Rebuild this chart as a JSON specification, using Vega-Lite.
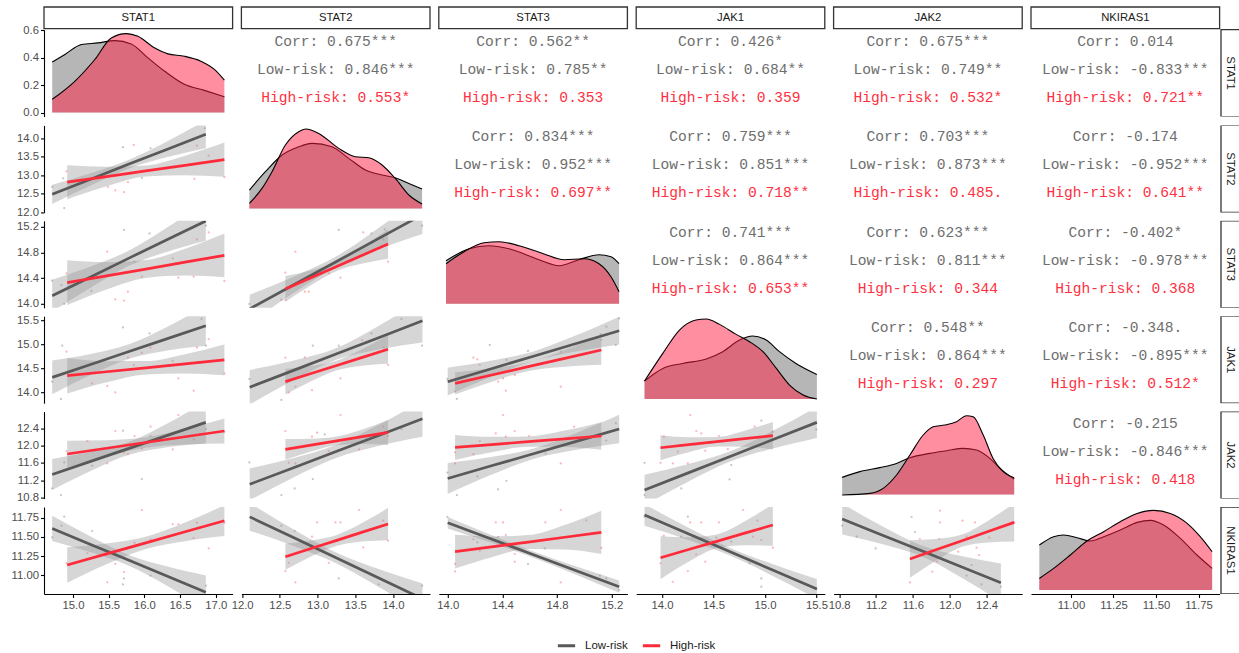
{
"$schema":"https://vega.github.io/schema/vega-lite/v6.json",
"background":"white",
"padding":{"left":11,"top":6,"right":0,"bottom":0},
"bounds":"flush",
"columns":6,
"spacing":8.4,
"datasets":{
"reg":[
{"p":"r2c1","g":"Low-risk","x":14.71,"f":12.48,"lo":12.22,"hi":12.74},{"p":"r2c1","g":"Low-risk","x":15.2475,"f":12.89,"lo":12.72,"hi":13.05},{"p":"r2c1","g":"Low-risk","x":15.785,"f":13.3,"lo":13.18,"hi":13.42},{"p":"r2c1","g":"Low-risk","x":16.3225,"f":13.7,"lo":13.49,"hi":13.92},{"p":"r2c1","g":"Low-risk","x":16.86,"f":14.11,"lo":13.73,"hi":14.49},
{"p":"r2c1","g":"High-risk","x":14.92,"f":12.81,"lo":12.35,"hi":13.27},{"p":"r2c1","g":"High-risk","x":15.47,"f":12.9625,"lo":12.7,"hi":13.23},{"p":"r2c1","g":"High-risk","x":16.02,"f":13.115,"lo":12.965,"hi":13.265},{"p":"r2c1","g":"High-risk","x":16.57,"f":13.2675,"lo":13.0,"hi":13.53},{"p":"r2c1","g":"High-risk","x":17.12,"f":13.42,"lo":12.955,"hi":13.885},
{"p":"r3c1","g":"Low-risk","x":14.71,"f":14.125,"lo":13.875,"hi":14.375},{"p":"r3c1","g":"Low-risk","x":15.2475,"f":14.416,"lo":14.25,"hi":14.58},{"p":"r3c1","g":"Low-risk","x":15.785,"f":14.71,"lo":14.59,"hi":14.83},{"p":"r3c1","g":"Low-risk","x":16.3225,"f":15.0,"lo":14.81,"hi":15.19},{"p":"r3c1","g":"Low-risk","x":16.86,"f":15.29,"lo":14.98,"hi":15.6},
{"p":"r3c1","g":"High-risk","x":14.92,"f":14.328,"lo":13.978,"hi":14.678},{"p":"r3c1","g":"High-risk","x":15.47,"f":14.434,"lo":14.221,"hi":14.647},{"p":"r3c1","g":"High-risk","x":16.02,"f":14.54,"lo":14.4,"hi":14.68},{"p":"r3c1","g":"High-risk","x":16.57,"f":14.647,"lo":14.438,"hi":14.856},{"p":"r3c1","g":"High-risk","x":17.12,"f":14.753,"lo":14.413,"hi":15.093},
{"p":"r4c1","g":"Low-risk","x":14.71,"f":14.305,"lo":13.955,"hi":14.655},{"p":"r4c1","g":"Low-risk","x":15.2475,"f":14.574,"lo":14.356,"hi":14.792},{"p":"r4c1","g":"Low-risk","x":15.785,"f":14.8435,"lo":14.6935,"hi":14.9935},{"p":"r4c1","g":"Low-risk","x":16.3225,"f":15.113,"lo":14.866,"hi":15.36},{"p":"r4c1","g":"Low-risk","x":16.86,"f":15.382,"lo":14.962,"hi":15.802},
{"p":"r4c1","g":"High-risk","x":14.92,"f":14.34,"lo":13.97,"hi":14.71},{"p":"r4c1","g":"High-risk","x":15.47,"f":14.4225,"lo":14.2015,"hi":14.6435},{"p":"r4c1","g":"High-risk","x":16.02,"f":14.505,"lo":14.365,"hi":14.645},{"p":"r4c1","g":"High-risk","x":16.57,"f":14.5875,"lo":14.3875,"hi":14.7875},{"p":"r4c1","g":"High-risk","x":17.12,"f":14.67,"lo":14.35,"hi":14.99},
{"p":"r5c1","g":"Low-risk","x":14.71,"f":11.333,"lo":10.973,"hi":11.693},{"p":"r5c1","g":"Low-risk","x":15.2475,"f":11.635,"lo":11.413,"hi":11.857},{"p":"r5c1","g":"Low-risk","x":15.785,"f":11.9365,"lo":11.7865,"hi":12.0865},{"p":"r5c1","g":"Low-risk","x":16.3225,"f":12.238,"lo":11.961,"hi":12.515},{"p":"r5c1","g":"Low-risk","x":16.86,"f":12.54,"lo":12.05,"hi":13.03},
{"p":"r5c1","g":"High-risk","x":14.92,"f":11.806,"lo":11.496,"hi":12.116},{"p":"r5c1","g":"High-risk","x":15.47,"f":11.94,"lo":11.753,"hi":12.126},{"p":"r5c1","g":"High-risk","x":16.02,"f":12.073,"lo":11.953,"hi":12.193},{"p":"r5c1","g":"High-risk","x":16.57,"f":12.2065,"lo":12.0285,"hi":12.3845},{"p":"r5c1","g":"High-risk","x":17.12,"f":12.34,"lo":12.05,"hi":12.63},
{"p":"r6c1","g":"Low-risk","x":14.71,"f":11.611,"lo":11.446,"hi":11.776},{"p":"r6c1","g":"Low-risk","x":15.2475,"f":11.403,"lo":11.3,"hi":11.506},{"p":"r6c1","g":"Low-risk","x":15.785,"f":11.1955,"lo":11.1255,"hi":11.2655},{"p":"r6c1","g":"Low-risk","x":16.3225,"f":10.988,"lo":10.862,"hi":11.114},{"p":"r6c1","g":"Low-risk","x":16.86,"f":10.78,"lo":10.56,"hi":11.0},
{"p":"r6c1","g":"High-risk","x":14.92,"f":11.135,"lo":10.905,"hi":11.365},{"p":"r6c1","g":"High-risk","x":15.47,"f":11.279,"lo":11.145,"hi":11.413},{"p":"r6c1","g":"High-risk","x":16.02,"f":11.423,"lo":11.343,"hi":11.503},{"p":"r6c1","g":"High-risk","x":16.57,"f":11.567,"lo":11.445,"hi":11.689},{"p":"r6c1","g":"High-risk","x":17.12,"f":11.711,"lo":11.511,"hi":11.911},
{"p":"r3c2","g":"Low-risk","x":12.1,"f":13.92,"lo":13.7,"hi":14.14},{"p":"r3c2","g":"Low-risk","x":12.6725,"f":14.287,"lo":14.157,"hi":14.417},{"p":"r3c2","g":"Low-risk","x":13.245,"f":14.654,"lo":14.574,"hi":14.734},{"p":"r3c2","g":"Low-risk","x":13.8175,"f":15.021,"lo":14.856,"hi":15.186},{"p":"r3c2","g":"Low-risk","x":14.39,"f":15.388,"lo":15.088,"hi":15.688},
{"p":"r3c2","g":"High-risk","x":12.573,"f":14.23,"lo":14.03,"hi":14.43},{"p":"r3c2","g":"High-risk","x":12.913,"f":14.405,"lo":14.288,"hi":14.522},{"p":"r3c2","g":"High-risk","x":13.2535,"f":14.58,"lo":14.51,"hi":14.65},{"p":"r3c2","g":"High-risk","x":13.594,"f":14.755,"lo":14.625,"hi":14.885},{"p":"r3c2","g":"High-risk","x":13.934,"f":14.93,"lo":14.7,"hi":15.16},
{"p":"r4c2","g":"Low-risk","x":12.1,"f":14.1,"lo":13.74,"hi":14.46},{"p":"r4c2","g":"Low-risk","x":12.6725,"f":14.446,"lo":14.238,"hi":14.654},{"p":"r4c2","g":"Low-risk","x":13.245,"f":14.79,"lo":14.67,"hi":14.91},{"p":"r4c2","g":"Low-risk","x":13.8175,"f":15.137,"lo":14.889,"hi":15.385},{"p":"r4c2","g":"Low-risk","x":14.39,"f":15.483,"lo":15.033,"hi":15.933},
{"p":"r4c2","g":"High-risk","x":12.573,"f":14.216,"lo":13.946,"hi":14.486},{"p":"r4c2","g":"High-risk","x":12.913,"f":14.3845,"lo":14.2245,"hi":14.5445},{"p":"r4c2","g":"High-risk","x":13.2535,"f":14.553,"lo":14.453,"hi":14.653},{"p":"r4c2","g":"High-risk","x":13.594,"f":14.7215,"lo":14.5485,"hi":14.8945},{"p":"r4c2","g":"High-risk","x":13.934,"f":14.89,"lo":14.59,"hi":15.19},
{"p":"r5c2","g":"Low-risk","x":12.1,"f":11.104,"lo":10.734,"hi":11.474},{"p":"r5c2","g":"Low-risk","x":12.6725,"f":11.484,"lo":11.258,"hi":11.71},{"p":"r5c2","g":"Low-risk","x":13.245,"f":11.864,"lo":11.714,"hi":12.014},{"p":"r5c2","g":"Low-risk","x":13.8175,"f":12.244,"lo":11.997,"hi":12.491},{"p":"r5c2","g":"Low-risk","x":14.39,"f":12.624,"lo":12.204,"hi":13.044},
{"p":"r5c2","g":"High-risk","x":12.573,"f":11.913,"lo":11.673,"hi":12.153},{"p":"r5c2","g":"High-risk","x":12.913,"f":12.0115,"lo":11.8635,"hi":12.1595},{"p":"r5c2","g":"High-risk","x":13.2535,"f":12.11,"lo":12.01,"hi":12.21},{"p":"r5c2","g":"High-risk","x":13.594,"f":12.2085,"lo":12.0395,"hi":12.3775},{"p":"r5c2","g":"High-risk","x":13.934,"f":12.307,"lo":12.017,"hi":12.597},
{"p":"r6c2","g":"Low-risk","x":12.1,"f":11.761,"lo":11.581,"hi":11.941},{"p":"r6c2","g":"Low-risk","x":12.6725,"f":11.495,"lo":11.386,"hi":11.604},{"p":"r6c2","g":"Low-risk","x":13.245,"f":11.2285,"lo":11.1585,"hi":11.2985},{"p":"r6c2","g":"Low-risk","x":13.8175,"f":10.962,"lo":10.845,"hi":11.079},{"p":"r6c2","g":"Low-risk","x":14.39,"f":10.696,"lo":10.496,"hi":10.896},
{"p":"r6c2","g":"High-risk","x":12.573,"f":11.243,"lo":11.073,"hi":11.413},{"p":"r6c2","g":"High-risk","x":12.913,"f":11.349,"lo":11.245,"hi":11.453},{"p":"r6c2","g":"High-risk","x":13.2535,"f":11.4555,"lo":11.3855,"hi":11.5255},{"p":"r6c2","g":"High-risk","x":13.594,"f":11.562,"lo":11.441,"hi":11.683},{"p":"r6c2","g":"High-risk","x":13.934,"f":11.668,"lo":11.458,"hi":11.878},
{"p":"r4c3","g":"Low-risk","x":14.0,"f":14.215,"lo":13.925,"hi":14.505},{"p":"r4c3","g":"Low-risk","x":14.314,"f":14.481,"lo":14.312,"hi":14.65},{"p":"r4c3","g":"Low-risk","x":14.6275,"f":14.7465,"lo":14.6465,"hi":14.8465},{"p":"r4c3","g":"Low-risk","x":14.941,"f":15.012,"lo":14.843,"hi":15.181},{"p":"r4c3","g":"Low-risk","x":15.255,"f":15.278,"lo":14.988,"hi":15.568},
{"p":"r4c3","g":"High-risk","x":14.054,"f":14.18,"lo":13.95,"hi":14.41},{"p":"r4c3","g":"High-risk","x":14.3215,"f":14.354,"lo":14.215,"hi":14.493},{"p":"r4c3","g":"High-risk","x":14.589,"f":14.528,"lo":14.438,"hi":14.618},{"p":"r4c3","g":"High-risk","x":14.8565,"f":14.702,"lo":14.5285,"hi":14.8755},{"p":"r4c3","g":"High-risk","x":15.124,"f":14.876,"lo":14.566,"hi":15.186},
{"p":"r5c3","g":"Low-risk","x":14.0,"f":11.24,"lo":10.88,"hi":11.6},{"p":"r5c3","g":"Low-risk","x":14.314,"f":11.5265,"lo":11.3185,"hi":11.7345},{"p":"r5c3","g":"Low-risk","x":14.6275,"f":11.813,"lo":11.693,"hi":11.933},{"p":"r5c3","g":"Low-risk","x":14.941,"f":12.0995,"lo":11.9045,"hi":12.2945},{"p":"r5c3","g":"Low-risk","x":15.255,"f":12.386,"lo":12.056,"hi":12.716},
{"p":"r5c3","g":"High-risk","x":14.054,"f":11.96,"lo":11.67,"hi":12.25},{"p":"r5c3","g":"High-risk","x":14.3215,"f":12.026,"lo":11.848,"hi":12.204},{"p":"r5c3","g":"High-risk","x":14.589,"f":12.092,"lo":11.972,"hi":12.212},{"p":"r5c3","g":"High-risk","x":14.8565,"f":12.158,"lo":11.967,"hi":12.349},{"p":"r5c3","g":"High-risk","x":15.124,"f":12.224,"lo":11.904,"hi":12.544},
{"p":"r6c3","g":"Low-risk","x":14.0,"f":11.685,"lo":11.61,"hi":11.76},{"p":"r6c3","g":"Low-risk","x":14.314,"f":11.477,"lo":11.426,"hi":11.528},{"p":"r6c3","g":"Low-risk","x":14.6275,"f":11.269,"lo":11.229,"hi":11.309},{"p":"r6c3","g":"Low-risk","x":14.941,"f":11.061,"lo":11.008,"hi":11.114},{"p":"r6c3","g":"Low-risk","x":15.255,"f":10.853,"lo":10.773,"hi":10.933},
{"p":"r6c3","g":"High-risk","x":14.054,"f":11.308,"lo":11.088,"hi":11.528},{"p":"r6c3","g":"High-risk","x":14.3215,"f":11.371,"lo":11.236,"hi":11.506},{"p":"r6c3","g":"High-risk","x":14.589,"f":11.4335,"lo":11.3435,"hi":11.5235},{"p":"r6c3","g":"High-risk","x":14.8565,"f":11.496,"lo":11.336,"hi":11.656},{"p":"r6c3","g":"High-risk","x":15.124,"f":11.559,"lo":11.279,"hi":11.839},
{"p":"r5c4","g":"Low-risk","x":13.831,"f":10.971,"lo":10.616,"hi":11.326},{"p":"r5c4","g":"Low-risk","x":14.249,"f":11.363,"lo":11.157,"hi":11.569},{"p":"r5c4","g":"Low-risk","x":14.667,"f":11.7555,"lo":11.6355,"hi":11.8755},{"p":"r5c4","g":"Low-risk","x":15.085,"f":12.148,"lo":11.941,"hi":12.355},{"p":"r5c4","g":"Low-risk","x":15.503,"f":12.54,"lo":12.18,"hi":12.9},
{"p":"r5c4","g":"High-risk","x":13.986,"f":11.952,"lo":11.662,"hi":12.242},{"p":"r5c4","g":"High-risk","x":14.2585,"f":12.022,"lo":11.8485,"hi":12.1955},{"p":"r5c4","g":"High-risk","x":14.531,"f":12.0915,"lo":11.9815,"hi":12.2015},{"p":"r5c4","g":"High-risk","x":14.8035,"f":12.161,"lo":11.975,"hi":12.347},{"p":"r5c4","g":"High-risk","x":15.076,"f":12.231,"lo":11.911,"hi":12.551},
{"p":"r6c4","g":"Low-risk","x":13.831,"f":11.785,"lo":11.645,"hi":11.925},{"p":"r6c4","g":"Low-risk","x":14.249,"f":11.5445,"lo":11.462,"hi":11.627},{"p":"r6c4","g":"Low-risk","x":14.667,"f":11.304,"lo":11.254,"hi":11.354},{"p":"r6c4","g":"Low-risk","x":15.085,"f":11.0635,"lo":10.9855,"hi":11.1415},{"p":"r6c4","g":"Low-risk","x":15.503,"f":10.823,"lo":10.693,"hi":10.953},
{"p":"r6c4","g":"High-risk","x":13.986,"f":11.23,"lo":10.95,"hi":11.51},{"p":"r6c4","g":"High-risk","x":14.2585,"f":11.336,"lo":11.176,"hi":11.496},{"p":"r6c4","g":"High-risk","x":14.531,"f":11.4425,"lo":11.3525,"hi":11.5325},{"p":"r6c4","g":"High-risk","x":14.8035,"f":11.549,"lo":11.393,"hi":11.705},{"p":"r6c4","g":"High-risk","x":15.076,"f":11.655,"lo":11.385,"hi":11.925},
{"p":"r6c5","g":"Low-risk","x":10.833,"f":11.733,"lo":11.533,"hi":11.933},{"p":"r6c5","g":"Low-risk","x":11.2635,"f":11.526,"lo":11.409,"hi":11.643},{"p":"r6c5","g":"Low-risk","x":11.694,"f":11.319,"lo":11.249,"hi":11.389},{"p":"r6c5","g":"Low-risk","x":12.1245,"f":11.112,"lo":10.973,"hi":11.251},{"p":"r6c5","g":"Low-risk","x":12.555,"f":10.905,"lo":10.655,"hi":11.155},
{"p":"r6c5","g":"High-risk","x":11.568,"f":11.213,"lo":10.968,"hi":11.458},{"p":"r6c5","g":"High-risk","x":11.851,"f":11.332,"lo":11.191,"hi":11.473},{"p":"r6c5","g":"High-risk","x":12.1335,"f":11.451,"lo":11.371,"hi":11.531},{"p":"r6c5","g":"High-risk","x":12.416,"f":11.57,"lo":11.429,"hi":11.711},{"p":"r6c5","g":"High-risk","x":12.699,"f":11.689,"lo":11.439,"hi":11.939}
],
"pts":[
{"p":"r2c1","g":"Low-risk","x":14.71,"y":12.68},{"p":"r2c1","g":"Low-risk","x":14.864,"y":12.915},{"p":"r2c1","g":"Low-risk","x":14.878,"y":12.108},{"p":"r2c1","g":"Low-risk","x":15.7,"y":13.76},{"p":"r2c1","g":"Low-risk","x":15.965,"y":12.923},{"p":"r2c1","g":"Low-risk","x":16.086,"y":13.73},{"p":"r2c1","g":"Low-risk","x":16.847,"y":14.27},
{"p":"r2c1","g":"High-risk","x":14.91,"y":13.1},{"p":"r2c1","g":"High-risk","x":15.593,"y":12.59},{"p":"r2c1","g":"High-risk","x":15.714,"y":12.54},{"p":"r2c1","g":"High-risk","x":15.77,"y":12.81},{"p":"r2c1","g":"High-risk","x":15.853,"y":13.82},{"p":"r2c1","g":"High-risk","x":15.49,"y":12.68},{"p":"r2c1","g":"High-risk","x":16.736,"y":13.8},{"p":"r2c1","g":"High-risk","x":16.9,"y":13.53},{"p":"r2c1","g":"High-risk","x":17.12,"y":12.95},{"p":"r2c1","g":"High-risk","x":16.7,"y":12.9},
{"p":"r3c1","g":"Low-risk","x":14.71,"y":14.359},{"p":"r3c1","g":"Low-risk","x":14.878,"y":13.996},{"p":"r3c1","g":"Low-risk","x":15.714,"y":15.149},{"p":"r3c1","g":"Low-risk","x":16.072,"y":15.096},{"p":"r3c1","g":"Low-risk","x":16.861,"y":15.216},{"p":"r3c1","g":"Low-risk","x":14.84,"y":14.29},{"p":"r3c1","g":"Low-risk","x":15.258,"y":14.198},
{"p":"r3c1","g":"High-risk","x":14.91,"y":14.473},{"p":"r3c1","g":"High-risk","x":15.48,"y":14.81},{"p":"r3c1","g":"High-risk","x":15.593,"y":14.068},{"p":"r3c1","g":"High-risk","x":15.714,"y":14.048},{"p":"r3c1","g":"High-risk","x":15.77,"y":14.188},{"p":"r3c1","g":"High-risk","x":15.863,"y":14.655},{"p":"r3c1","g":"High-risk","x":15.965,"y":14.421},{"p":"r3c1","g":"High-risk","x":16.397,"y":14.707},{"p":"r3c1","g":"High-risk","x":16.476,"y":14.406},{"p":"r3c1","g":"High-risk","x":16.69,"y":14.421},{"p":"r3c1","g":"High-risk","x":16.736,"y":15.002},{"p":"r3c1","g":"High-risk","x":16.9,"y":15.111},{"p":"r3c1","g":"High-risk","x":17.12,"y":14.354},
{"p":"r4c1","g":"Low-risk","x":14.71,"y":14.216},{"p":"r4c1","g":"Low-risk","x":14.832,"y":13.855},{"p":"r4c1","g":"Low-risk","x":14.85,"y":14.965},{"p":"r4c1","g":"Low-risk","x":15.7,"y":15.347},{"p":"r4c1","g":"Low-risk","x":16.072,"y":15.222},{"p":"r4c1","g":"Low-risk","x":16.8,"y":15.522},{"p":"r4c1","g":"Low-risk","x":16.861,"y":14.965},
{"p":"r4c1","g":"High-risk","x":14.91,"y":14.84},{"p":"r4c1","g":"High-risk","x":15.268,"y":14.18},{"p":"r4c1","g":"High-risk","x":15.481,"y":14.126},{"p":"r4c1","g":"High-risk","x":15.593,"y":13.992},{"p":"r4c1","g":"High-risk","x":15.77,"y":14.715},{"p":"r4c1","g":"High-risk","x":15.853,"y":14.563},{"p":"r4c1","g":"High-risk","x":15.965,"y":14.82},{"p":"r4c1","g":"High-risk","x":16.086,"y":14.924},{"p":"r4c1","g":"High-risk","x":16.397,"y":14.647},{"p":"r4c1","g":"High-risk","x":16.476,"y":14.284},{"p":"r4c1","g":"High-risk","x":16.69,"y":14.028},{"p":"r4c1","g":"High-risk","x":16.736,"y":14.93},{"p":"r4c1","g":"High-risk","x":16.9,"y":15.105},{"p":"r4c1","g":"High-risk","x":17.12,"y":14.388},
{"p":"r5c1","g":"Low-risk","x":14.71,"y":11.008},{"p":"r5c1","g":"Low-risk","x":14.832,"y":10.855},{"p":"r5c1","g":"Low-risk","x":14.878,"y":11.611},{"p":"r5c1","g":"Low-risk","x":15.268,"y":11.535},{"p":"r5c1","g":"Low-risk","x":15.7,"y":12.347},{"p":"r5c1","g":"Low-risk","x":15.965,"y":11.226},{"p":"r5c1","g":"Low-risk","x":16.086,"y":12.224},{"p":"r5c1","g":"Low-risk","x":16.861,"y":12.386},
{"p":"r5c1","g":"High-risk","x":14.91,"y":11.876},{"p":"r5c1","g":"High-risk","x":15.203,"y":12.108},{"p":"r5c1","g":"High-risk","x":15.481,"y":11.588},{"p":"r5c1","g":"High-risk","x":15.593,"y":12.34},{"p":"r5c1","g":"High-risk","x":15.714,"y":11.843},{"p":"r5c1","g":"High-risk","x":15.77,"y":11.806},{"p":"r5c1","g":"High-risk","x":15.863,"y":12.224},{"p":"r5c1","g":"High-risk","x":15.965,"y":11.936},{"p":"r5c1","g":"High-risk","x":16.086,"y":12.44},{"p":"r5c1","g":"High-risk","x":16.397,"y":11.913},{"p":"r5c1","g":"High-risk","x":16.476,"y":12.711},{"p":"r5c1","g":"High-risk","x":16.69,"y":12.145},{"p":"r5c1","g":"High-risk","x":17.12,"y":12.324},
{"p":"r6c1","g":"Low-risk","x":14.71,"y":11.494},{"p":"r6c1","g":"Low-risk","x":14.84,"y":11.646},{"p":"r6c1","g":"Low-risk","x":14.878,"y":11.763},{"p":"r6c1","g":"Low-risk","x":15.268,"y":11.577},{"p":"r6c1","g":"Low-risk","x":15.7,"y":10.883},{"p":"r6c1","g":"Low-risk","x":15.714,"y":10.961},{"p":"r6c1","g":"Low-risk","x":16.086,"y":10.996},{"p":"r6c1","g":"Low-risk","x":16.861,"y":10.866},
{"p":"r6c1","g":"High-risk","x":14.91,"y":11.16},{"p":"r6c1","g":"High-risk","x":15.203,"y":11.29},{"p":"r6c1","g":"High-risk","x":15.481,"y":10.91},{"p":"r6c1","g":"High-risk","x":15.593,"y":11.151},{"p":"r6c1","g":"High-risk","x":15.714,"y":11.043},{"p":"r6c1","g":"High-risk","x":15.77,"y":11.35},{"p":"r6c1","g":"High-risk","x":15.863,"y":11.424},{"p":"r6c1","g":"High-risk","x":15.965,"y":11.85},{"p":"r6c1","g":"High-risk","x":16.086,"y":11.464},{"p":"r6c1","g":"High-risk","x":16.397,"y":11.664},{"p":"r6c1","g":"High-risk","x":16.476,"y":11.664},{"p":"r6c1","g":"High-risk","x":16.69,"y":11.486},{"p":"r6c1","g":"High-risk","x":16.736,"y":11.685},{"p":"r6c1","g":"High-risk","x":16.9,"y":11.35},{"p":"r6c1","g":"High-risk","x":17.12,"y":11.685},
{"p":"r3c2","g":"Low-risk","x":12.096,"y":13.996},{"p":"r3c2","g":"Low-risk","x":12.52,"y":14.063},{"p":"r3c2","g":"Low-risk","x":13.28,"y":15.149},{"p":"r3c2","g":"Low-risk","x":13.714,"y":15.096},{"p":"r3c2","g":"Low-risk","x":13.89,"y":15.158},{"p":"r3c2","g":"Low-risk","x":14.385,"y":15.216},
{"p":"r3c2","g":"High-risk","x":12.573,"y":14.484},{"p":"r3c2","g":"High-risk","x":12.706,"y":14.811},{"p":"r3c2","g":"High-risk","x":12.83,"y":14.188},{"p":"r3c2","g":"High-risk","x":12.883,"y":14.188},{"p":"r3c2","g":"High-risk","x":13.148,"y":14.473},{"p":"r3c2","g":"High-risk","x":13.303,"y":14.406},{"p":"r3c2","g":"High-risk","x":13.606,"y":15.111},{"p":"r3c2","g":"High-risk","x":13.871,"y":15.002},{"p":"r3c2","g":"High-risk","x":13.934,"y":14.655},{"p":"r3c2","g":"High-risk","x":12.573,"y":14.058},
{"p":"r4c2","g":"Low-risk","x":12.096,"y":14.272},{"p":"r4c2","g":"Low-risk","x":12.52,"y":13.834},{"p":"r4c2","g":"Low-risk","x":12.936,"y":14.965},{"p":"r4c2","g":"Low-risk","x":13.28,"y":14.965},{"p":"r4c2","g":"Low-risk","x":13.714,"y":15.222},{"p":"r4c2","g":"Low-risk","x":14.112,"y":15.522},{"p":"r4c2","g":"Low-risk","x":14.385,"y":14.965},
{"p":"r4c2","g":"High-risk","x":12.573,"y":14.715},{"p":"r4c2","g":"High-risk","x":12.617,"y":13.992},{"p":"r4c2","g":"High-risk","x":12.706,"y":14.11},{"p":"r4c2","g":"High-risk","x":12.83,"y":14.72},{"p":"r4c2","g":"High-risk","x":12.926,"y":14.04},{"p":"r4c2","g":"High-risk","x":13.303,"y":14.284},{"p":"r4c2","g":"High-risk","x":13.59,"y":15.084},{"p":"r4c2","g":"High-risk","x":13.878,"y":14.93},{"p":"r4c2","g":"High-risk","x":13.934,"y":14.563},
{"p":"r5c2","g":"Low-risk","x":12.096,"y":11.611},{"p":"r5c2","g":"Low-risk","x":12.52,"y":10.855},{"p":"r5c2","g":"Low-risk","x":12.697,"y":11.008},{"p":"r5c2","g":"Low-risk","x":12.936,"y":11.226},{"p":"r5c2","g":"Low-risk","x":13.095,"y":12.261},{"p":"r5c2","g":"Low-risk","x":14.112,"y":12.386},
{"p":"r5c2","g":"High-risk","x":12.573,"y":12.34},{"p":"r5c2","g":"High-risk","x":12.617,"y":11.604},{"p":"r5c2","g":"High-risk","x":12.706,"y":11.588},{"p":"r5c2","g":"High-risk","x":12.926,"y":12.208},{"p":"r5c2","g":"High-risk","x":12.993,"y":12.3},{"p":"r5c2","g":"High-risk","x":13.148,"y":11.876},{"p":"r5c2","g":"High-risk","x":13.303,"y":12.711},{"p":"r5c2","g":"High-risk","x":13.55,"y":11.913},{"p":"r5c2","g":"High-risk","x":13.871,"y":12.44},{"p":"r5c2","g":"High-risk","x":13.934,"y":12.224},
{"p":"r6c2","g":"Low-risk","x":12.52,"y":11.646},{"p":"r6c2","g":"Low-risk","x":12.697,"y":11.577},{"p":"r6c2","g":"Low-risk","x":13.28,"y":10.961},{"p":"r6c2","g":"Low-risk","x":13.81,"y":10.883},{"p":"r6c2","g":"Low-risk","x":14.385,"y":10.866},
{"p":"r6c2","g":"High-risk","x":12.573,"y":11.057},{"p":"r6c2","g":"High-risk","x":12.617,"y":11.164},{"p":"r6c2","g":"High-risk","x":12.706,"y":10.91},{"p":"r6c2","g":"High-risk","x":12.926,"y":11.503},{"p":"r6c2","g":"High-risk","x":12.993,"y":11.689},{"p":"r6c2","g":"High-risk","x":13.148,"y":11.164},{"p":"r6c2","g":"High-risk","x":13.237,"y":11.689},{"p":"r6c2","g":"High-risk","x":13.303,"y":11.689},{"p":"r6c2","g":"High-risk","x":13.55,"y":11.85},{"p":"r6c2","g":"High-risk","x":13.606,"y":11.364},{"p":"r6c2","g":"High-risk","x":13.871,"y":11.711},{"p":"r6c2","g":"High-risk","x":13.934,"y":11.451},
{"p":"r4c3","g":"Low-risk","x":13.998,"y":14.272},{"p":"r4c3","g":"Low-risk","x":14.067,"y":13.855},{"p":"r4c3","g":"Low-risk","x":14.308,"y":14.98},{"p":"r4c3","g":"Low-risk","x":14.43,"y":14.668},{"p":"r4c3","g":"Low-risk","x":14.588,"y":14.855},{"p":"r4c3","g":"Low-risk","x":15.12,"y":15.209},{"p":"r4c3","g":"Low-risk","x":15.161,"y":15.361},{"p":"r4c3","g":"Low-risk","x":15.23,"y":14.98},{"p":"r4c3","g":"Low-risk","x":15.254,"y":15.534},
{"p":"r4c3","g":"High-risk","x":14.054,"y":14.01},{"p":"r4c3","g":"High-risk","x":14.188,"y":14.715},{"p":"r4c3","g":"High-risk","x":14.217,"y":14.68},{"p":"r4c3","g":"High-risk","x":14.235,"y":14.563},{"p":"r4c3","g":"High-risk","x":14.369,"y":14.215},{"p":"r4c3","g":"High-risk","x":14.405,"y":14.284},{"p":"r4c3","g":"High-risk","x":14.425,"y":14.028},{"p":"r4c3","g":"High-risk","x":14.491,"y":14.355},{"p":"r4c3","g":"High-risk","x":14.827,"y":14.111},{"p":"r4c3","g":"High-risk","x":14.827,"y":14.84},{"p":"r4c3","g":"High-risk","x":15.124,"y":15.084},
{"p":"r5c3","g":"Low-risk","x":13.998,"y":11.377},{"p":"r5c3","g":"Low-risk","x":14.067,"y":10.855},{"p":"r5c3","g":"Low-risk","x":14.19,"y":11.412},{"p":"r5c3","g":"Low-risk","x":14.217,"y":11.287},{"p":"r5c3","g":"Low-risk","x":14.369,"y":10.985},{"p":"r5c3","g":"Low-risk","x":14.43,"y":11.184},{"p":"r5c3","g":"Low-risk","x":14.716,"y":11.813},{"p":"r5c3","g":"Low-risk","x":15.16,"y":12.118},{"p":"r5c3","g":"Low-risk","x":15.23,"y":12.52},
{"p":"r5c3","g":"High-risk","x":14.054,"y":11.843},{"p":"r5c3","g":"High-risk","x":14.054,"y":11.588},{"p":"r5c3","g":"High-risk","x":14.188,"y":11.806},{"p":"r5c3","g":"High-risk","x":14.235,"y":12.108},{"p":"r5c3","g":"High-risk","x":14.352,"y":12.283},{"p":"r5c3","g":"High-risk","x":14.405,"y":12.711},{"p":"r5c3","g":"High-risk","x":14.425,"y":12.208},{"p":"r5c3","g":"High-risk","x":14.491,"y":12.34},{"p":"r5c3","g":"High-risk","x":14.595,"y":12.224},{"p":"r5c3","g":"High-risk","x":14.827,"y":11.588},{"p":"r5c3","g":"High-risk","x":14.925,"y":12.44},{"p":"r5c3","g":"High-risk","x":15.124,"y":12.224},
{"p":"r6c3","g":"Low-risk","x":13.998,"y":11.762},{"p":"r6c3","g":"Low-risk","x":14.217,"y":11.428},{"p":"r6c3","g":"Low-risk","x":14.369,"y":11.502},{"p":"r6c3","g":"Low-risk","x":14.588,"y":11.148},{"p":"r6c3","g":"Low-risk","x":14.71,"y":11.35},{"p":"r6c3","g":"Low-risk","x":15.113,"y":10.996},{"p":"r6c3","g":"Low-risk","x":15.161,"y":10.961},{"p":"r6c3","g":"Low-risk","x":15.254,"y":10.81},
{"p":"r6c3","g":"High-risk","x":14.054,"y":11.151},{"p":"r6c3","g":"High-risk","x":14.054,"y":11.052},{"p":"r6c3","g":"High-risk","x":14.188,"y":11.469},{"p":"r6c3","g":"High-risk","x":14.235,"y":11.32},{"p":"r6c3","g":"High-risk","x":14.352,"y":11.689},{"p":"r6c3","g":"High-risk","x":14.405,"y":11.689},{"p":"r6c3","g":"High-risk","x":14.425,"y":11.525},{"p":"r6c3","g":"High-risk","x":14.491,"y":11.278},{"p":"r6c3","g":"High-risk","x":14.491,"y":11.178},{"p":"r6c3","g":"High-risk","x":14.715,"y":11.689},{"p":"r6c3","g":"High-risk","x":14.827,"y":11.85},{"p":"r6c3","g":"High-risk","x":14.827,"y":10.908},{"p":"r6c3","g":"High-risk","x":15.014,"y":11.714},{"p":"r6c3","g":"High-risk","x":15.124,"y":11.359},
{"p":"r5c4","g":"Low-risk","x":13.831,"y":11.603},{"p":"r5c4","g":"Low-risk","x":13.831,"y":10.855},{"p":"r5c4","g":"Low-risk","x":14.187,"y":11.008},{"p":"r5c4","g":"Low-risk","x":14.672,"y":11.551},{"p":"r5c4","g":"Low-risk","x":14.656,"y":11.217},{"p":"r5c4","g":"Low-risk","x":14.964,"y":12.579},{"p":"r5c4","g":"Low-risk","x":15.498,"y":12.377},
{"p":"r5c4","g":"High-risk","x":13.986,"y":11.603},{"p":"r5c4","g":"High-risk","x":14.018,"y":12.207},{"p":"r5c4","g":"High-risk","x":14.105,"y":11.588},{"p":"r5c4","g":"High-risk","x":14.154,"y":11.86},{"p":"r5c4","g":"High-risk","x":14.251,"y":11.588},{"p":"r5c4","g":"High-risk","x":14.274,"y":12.711},{"p":"r5c4","g":"High-risk","x":14.333,"y":12.34},{"p":"r5c4","g":"High-risk","x":14.381,"y":12.284},{"p":"r5c4","g":"High-risk","x":14.42,"y":11.883},{"p":"r5c4","g":"High-risk","x":14.552,"y":12.224},{"p":"r5c4","g":"High-risk","x":14.639,"y":11.922},{"p":"r5c4","g":"High-risk","x":14.899,"y":12.44},{"p":"r5c4","g":"High-risk","x":15.076,"y":12.324},
{"p":"r6c4","g":"Low-risk","x":13.831,"y":11.763},{"p":"r6c4","g":"Low-risk","x":14.187,"y":11.503},{"p":"r6c4","g":"Low-risk","x":14.251,"y":11.763},{"p":"r6c4","g":"Low-risk","x":14.527,"y":11.49},{"p":"r6c4","g":"Low-risk","x":14.672,"y":11.438},{"p":"r6c4","g":"Low-risk","x":14.85,"y":11.157},{"p":"r6c4","g":"Low-risk","x":14.964,"y":10.961},{"p":"r6c4","g":"Low-risk","x":14.964,"y":10.853},{"p":"r6c4","g":"Low-risk","x":15.498,"y":10.823},
{"p":"r6c4","g":"High-risk","x":13.986,"y":11.157},{"p":"r6c4","g":"High-risk","x":14.018,"y":11.516},{"p":"r6c4","g":"High-risk","x":14.105,"y":10.917},{"p":"r6c4","g":"High-risk","x":14.251,"y":11.056},{"p":"r6c4","g":"High-risk","x":14.274,"y":11.689},{"p":"r6c4","g":"High-risk","x":14.333,"y":11.273},{"p":"r6c4","g":"High-risk","x":14.381,"y":11.689},{"p":"r6c4","g":"High-risk","x":14.42,"y":11.178},{"p":"r6c4","g":"High-risk","x":14.552,"y":11.689},{"p":"r6c4","g":"High-risk","x":14.787,"y":11.85},{"p":"r6c4","g":"High-risk","x":14.884,"y":11.503},{"p":"r6c4","g":"High-risk","x":14.926,"y":11.711},{"p":"r6c4","g":"High-risk","x":14.964,"y":11.46},{"p":"r6c4","g":"High-risk","x":15.076,"y":11.36},
{"p":"r6c5","g":"Low-risk","x":10.833,"y":11.646},{"p":"r6c5","g":"Low-risk","x":10.99,"y":11.503},{"p":"r6c5","g":"Low-risk","x":11.196,"y":11.351},{"p":"r6c5","g":"Low-risk","x":11.586,"y":11.759},{"p":"r6c5","g":"Low-risk","x":11.622,"y":11.564},{"p":"r6c5","g":"Low-risk","x":12.183,"y":10.996},{"p":"r6c5","g":"Low-risk","x":12.237,"y":11.135},{"p":"r6c5","g":"Low-risk","x":12.345,"y":10.883},{"p":"r6c5","g":"Low-risk","x":12.555,"y":10.853},
{"p":"r6c5","g":"High-risk","x":11.568,"y":10.909},{"p":"r6c5","g":"High-risk","x":11.676,"y":11.473},{"p":"r6c5","g":"High-risk","x":11.81,"y":11.048},{"p":"r6c5","g":"High-risk","x":11.864,"y":11.178},{"p":"r6c5","g":"High-risk","x":11.885,"y":11.473},{"p":"r6c5","g":"High-risk","x":11.893,"y":11.841},{"p":"r6c5","g":"High-risk","x":11.893,"y":11.689},{"p":"r6c5","g":"High-risk","x":12.091,"y":11.308},{"p":"r6c5","g":"High-risk","x":12.139,"y":11.711},{"p":"r6c5","g":"High-risk","x":12.183,"y":11.503},{"p":"r6c5","g":"High-risk","x":12.273,"y":11.689},{"p":"r6c5","g":"High-risk","x":12.291,"y":11.36},{"p":"r6c5","g":"High-risk","x":12.319,"y":11.265},{"p":"r6c5","g":"High-risk","x":12.428,"y":11.49},{"p":"r6c5","g":"High-risk","x":12.699,"y":11.689}
],
"dens":[
{"v":"STAT1","g":"Low-risk","x":14.71,"y":0.368},{"v":"STAT1","g":"Low-risk","x":14.888,"y":0.424},{"v":"STAT1","g":"Low-risk","x":15.119,"y":0.496},{"v":"STAT1","g":"Low-risk","x":15.352,"y":0.508},{"v":"STAT1","g":"Low-risk","x":15.585,"y":0.525},{"v":"STAT1","g":"Low-risk","x":15.816,"y":0.5},{"v":"STAT1","g":"Low-risk","x":16.05,"y":0.399},{"v":"STAT1","g":"Low-risk","x":16.28,"y":0.303},{"v":"STAT1","g":"Low-risk","x":16.56,"y":0.206},{"v":"STAT1","g":"Low-risk","x":16.84,"y":0.162},{"v":"STAT1","g":"Low-risk","x":17.12,"y":0.116},
{"v":"STAT1","g":"High-risk","x":14.71,"y":0.097},{"v":"STAT1","g":"High-risk","x":15.03,"y":0.23},{"v":"STAT1","g":"High-risk","x":15.306,"y":0.387},{"v":"STAT1","g":"High-risk","x":15.537,"y":0.544},{"v":"STAT1","g":"High-risk","x":15.747,"y":0.576},{"v":"STAT1","g":"High-risk","x":15.91,"y":0.556},{"v":"STAT1","g":"High-risk","x":16.14,"y":0.472},{"v":"STAT1","g":"High-risk","x":16.33,"y":0.428},{"v":"STAT1","g":"High-risk","x":16.56,"y":0.411},{"v":"STAT1","g":"High-risk","x":16.79,"y":0.375},{"v":"STAT1","g":"High-risk","x":16.98,"y":0.315},{"v":"STAT1","g":"High-risk","x":17.12,"y":0.237},
{"v":"STAT2","g":"Low-risk","x":12.096,"y":0.257},{"v":"STAT2","g":"Low-risk","x":12.308,"y":0.468},{"v":"STAT2","g":"Low-risk","x":12.53,"y":0.66},{"v":"STAT2","g":"Low-risk","x":12.75,"y":0.755},{"v":"STAT2","g":"Low-risk","x":12.926,"y":0.793},{"v":"STAT2","g":"Low-risk","x":13.19,"y":0.755},{"v":"STAT2","g":"Low-risk","x":13.413,"y":0.621},{"v":"STAT2","g":"Low-risk","x":13.635,"y":0.487},{"v":"STAT2","g":"Low-risk","x":13.855,"y":0.43},{"v":"STAT2","g":"Low-risk","x":14.054,"y":0.39},{"v":"STAT2","g":"Low-risk","x":14.21,"y":0.333},{"v":"STAT2","g":"Low-risk","x":14.385,"y":0.269},
{"v":"STAT2","g":"High-risk","x":12.096,"y":0.103},{"v":"STAT2","g":"High-risk","x":12.263,"y":0.276},{"v":"STAT2","g":"High-risk","x":12.396,"y":0.468},{"v":"STAT2","g":"High-risk","x":12.573,"y":0.775},{"v":"STAT2","g":"High-risk","x":12.75,"y":0.928},{"v":"STAT2","g":"High-risk","x":12.84,"y":0.958},{"v":"STAT2","g":"High-risk","x":13.015,"y":0.908},{"v":"STAT2","g":"High-risk","x":13.28,"y":0.736},{"v":"STAT2","g":"High-risk","x":13.5,"y":0.64},{"v":"STAT2","g":"High-risk","x":13.68,"y":0.629},{"v":"STAT2","g":"High-risk","x":13.855,"y":0.545},{"v":"STAT2","g":"High-risk","x":14.03,"y":0.39},{"v":"STAT2","g":"High-risk","x":14.21,"y":0.2},{"v":"STAT2","g":"High-risk","x":14.385,"y":0.097},
{"v":"STAT3","g":"Low-risk","x":13.988,"y":0.541},{"v":"STAT3","g":"Low-risk","x":14.157,"y":0.679},{"v":"STAT3","g":"Low-risk","x":14.303,"y":0.714},{"v":"STAT3","g":"Low-risk","x":14.449,"y":0.679},{"v":"STAT3","g":"Low-risk","x":14.669,"y":0.553},{"v":"STAT3","g":"Low-risk","x":14.815,"y":0.484},{"v":"STAT3","g":"Low-risk","x":14.96,"y":0.553},{"v":"STAT3","g":"Low-risk","x":15.107,"y":0.61},{"v":"STAT3","g":"Low-risk","x":15.195,"y":0.587},{"v":"STAT3","g":"Low-risk","x":15.254,"y":0.507},
{"v":"STAT3","g":"High-risk","x":13.988,"y":0.507},{"v":"STAT3","g":"High-risk","x":14.12,"y":0.645},{"v":"STAT3","g":"High-risk","x":14.266,"y":0.748},{"v":"STAT3","g":"High-risk","x":14.376,"y":0.76},{"v":"STAT3","g":"High-risk","x":14.522,"y":0.714},{"v":"STAT3","g":"High-risk","x":14.7,"y":0.622},{"v":"STAT3","g":"High-risk","x":14.852,"y":0.553},{"v":"STAT3","g":"High-risk","x":14.998,"y":0.564},{"v":"STAT3","g":"High-risk","x":15.107,"y":0.507},{"v":"STAT3","g":"High-risk","x":15.195,"y":0.357},{"v":"STAT3","g":"High-risk","x":15.254,"y":0.185},
{"v":"JAK1","g":"Low-risk","x":13.831,"y":0.255},{"v":"JAK1","g":"Low-risk","x":14.008,"y":0.4},{"v":"JAK1","g":"Low-risk","x":14.2,"y":0.457},{"v":"JAK1","g":"Low-risk","x":14.43,"y":0.508},{"v":"JAK1","g":"Low-risk","x":14.59,"y":0.592},{"v":"JAK1","g":"Low-risk","x":14.753,"y":0.726},{"v":"JAK1","g":"Low-risk","x":14.88,"y":0.772},{"v":"JAK1","g":"Low-risk","x":15.012,"y":0.726},{"v":"JAK1","g":"Low-risk","x":15.14,"y":0.592},{"v":"JAK1","g":"Low-risk","x":15.3,"y":0.457},{"v":"JAK1","g":"Low-risk","x":15.503,"y":0.331},
{"v":"JAK1","g":"High-risk","x":13.831,"y":0.255},{"v":"JAK1","g":"High-risk","x":14.008,"y":0.572},{"v":"JAK1","g":"High-risk","x":14.17,"y":0.841},{"v":"JAK1","g":"High-risk","x":14.33,"y":0.956},{"v":"JAK1","g":"High-risk","x":14.43,"y":0.968},{"v":"JAK1","g":"High-risk","x":14.559,"y":0.906},{"v":"JAK1","g":"High-risk","x":14.72,"y":0.791},{"v":"JAK1","g":"High-risk","x":14.85,"y":0.707},{"v":"JAK1","g":"High-risk","x":14.98,"y":0.592},{"v":"JAK1","g":"High-risk","x":15.11,"y":0.4},{"v":"JAK1","g":"High-risk","x":15.238,"y":0.209},{"v":"JAK1","g":"High-risk","x":15.37,"y":0.094},{"v":"JAK1","g":"High-risk","x":15.503,"y":0.048},
{"v":"JAK2","g":"Low-risk","x":10.833,"y":0.244},{"v":"JAK2","g":"Low-risk","x":11.025,"y":0.31},{"v":"JAK2","g":"Low-risk","x":11.24,"y":0.356},{"v":"JAK2","g":"Low-risk","x":11.423,"y":0.404},{"v":"JAK2","g":"Low-risk","x":11.568,"y":0.47},{"v":"JAK2","g":"Low-risk","x":11.785,"y":0.52},{"v":"JAK2","g":"Low-risk","x":11.966,"y":0.55},{"v":"JAK2","g":"Low-risk","x":12.146,"y":0.577},{"v":"JAK2","g":"Low-risk","x":12.29,"y":0.558},{"v":"JAK2","g":"Low-risk","x":12.435,"y":0.462},{"v":"JAK2","g":"Low-risk","x":12.544,"y":0.347},{"v":"JAK2","g":"Low-risk","x":12.699,"y":0.225},
{"v":"JAK2","g":"High-risk","x":10.833,"y":0.041},{"v":"JAK2","g":"High-risk","x":11.134,"y":0.06},{"v":"JAK2","g":"High-risk","x":11.278,"y":0.118},{"v":"JAK2","g":"High-risk","x":11.423,"y":0.271},{"v":"JAK2","g":"High-risk","x":11.568,"y":0.501},{"v":"JAK2","g":"High-risk","x":11.712,"y":0.731},{"v":"JAK2","g":"High-risk","x":11.82,"y":0.826},{"v":"JAK2","g":"High-risk","x":11.947,"y":0.846},{"v":"JAK2","g":"High-risk","x":12.074,"y":0.884},{"v":"JAK2","g":"High-risk","x":12.182,"y":0.953},{"v":"JAK2","g":"High-risk","x":12.254,"y":0.941},{"v":"JAK2","g":"High-risk","x":12.363,"y":0.731},{"v":"JAK2","g":"High-risk","x":12.47,"y":0.462},{"v":"JAK2","g":"High-risk","x":12.58,"y":0.31},{"v":"JAK2","g":"High-risk","x":12.699,"y":0.239},
{"v":"NKIRAS1","g":"Low-risk","x":10.814,"y":0.563},{"v":"NKIRAS1","g":"Low-risk","x":10.898,"y":0.659},{"v":"NKIRAS1","g":"Low-risk","x":10.957,"y":0.678},{"v":"NKIRAS1","g":"Low-risk","x":11.036,"y":0.647},{"v":"NKIRAS1","g":"Low-risk","x":11.114,"y":0.609},{"v":"NKIRAS1","g":"Low-risk","x":11.192,"y":0.659},{"v":"NKIRAS1","g":"Low-risk","x":11.29,"y":0.736},{"v":"NKIRAS1","g":"Low-risk","x":11.389,"y":0.823},{"v":"NKIRAS1","g":"Low-risk","x":11.467,"y":0.846},{"v":"NKIRAS1","g":"Low-risk","x":11.545,"y":0.793},{"v":"NKIRAS1","g":"Low-risk","x":11.643,"y":0.639},{"v":"NKIRAS1","g":"Low-risk","x":11.741,"y":0.448},{"v":"NKIRAS1","g":"Low-risk","x":11.83,"y":0.294},
{"v":"NKIRAS1","g":"High-risk","x":10.814,"y":0.179},{"v":"NKIRAS1","g":"High-risk","x":10.898,"y":0.294},{"v":"NKIRAS1","g":"High-risk","x":10.996,"y":0.448},{"v":"NKIRAS1","g":"High-risk","x":11.094,"y":0.609},{"v":"NKIRAS1","g":"High-risk","x":11.192,"y":0.716},{"v":"NKIRAS1","g":"High-risk","x":11.29,"y":0.831},{"v":"NKIRAS1","g":"High-risk","x":11.389,"y":0.926},{"v":"NKIRAS1","g":"High-risk","x":11.486,"y":0.961},{"v":"NKIRAS1","g":"High-risk","x":11.584,"y":0.926},{"v":"NKIRAS1","g":"High-risk","x":11.683,"y":0.812},{"v":"NKIRAS1","g":"High-risk","x":11.76,"y":0.659},{"v":"NKIRAS1","g":"High-risk","x":11.83,"y":0.486}
],
"txt":[
{"p":"r1c2","k":"a","t":"Corr: 0.675***"},{"p":"r1c2","k":"b","t":"\u00a0Low-risk: 0.846***"},{"p":"r1c2","k":"c","t":"High-risk: 0.553*\u00a0\u00a0"},
{"p":"r1c3","k":"a","t":"Corr: 0.562**"},{"p":"r1c3","k":"b","t":"\u00a0Low-risk: 0.785**"},{"p":"r1c3","k":"c","t":"High-risk: 0.353\u00a0\u00a0"},
{"p":"r1c4","k":"a","t":"Corr: 0.426*"},{"p":"r1c4","k":"b","t":"\u00a0Low-risk: 0.684**"},{"p":"r1c4","k":"c","t":"High-risk: 0.359\u00a0\u00a0"},
{"p":"r1c5","k":"a","t":"Corr: 0.675***"},{"p":"r1c5","k":"b","t":"\u00a0Low-risk: 0.749**"},{"p":"r1c5","k":"c","t":"High-risk: 0.532*\u00a0"},
{"p":"r1c6","k":"a","t":"Corr: 0.014"},{"p":"r1c6","k":"b","t":"\u00a0Low-risk: -0.833***"},{"p":"r1c6","k":"c","t":"High-risk: 0.721**\u00a0\u00a0"},
{"p":"r2c3","k":"a","t":"Corr: 0.834***"},{"p":"r2c3","k":"b","t":"\u00a0Low-risk: 0.952***"},{"p":"r2c3","k":"c","t":"High-risk: 0.697**\u00a0"},
{"p":"r2c4","k":"a","t":"Corr: 0.759***"},{"p":"r2c4","k":"b","t":"\u00a0Low-risk: 0.851***"},{"p":"r2c4","k":"c","t":"High-risk: 0.718**\u00a0"},
{"p":"r2c5","k":"a","t":"Corr: 0.703***"},{"p":"r2c5","k":"b","t":"\u00a0Low-risk: 0.873***"},{"p":"r2c5","k":"c","t":"High-risk: 0.485.\u00a0\u00a0"},
{"p":"r2c6","k":"a","t":"Corr: -0.174"},{"p":"r2c6","k":"b","t":"\u00a0Low-risk: -0.952***"},{"p":"r2c6","k":"c","t":"High-risk: 0.641**\u00a0\u00a0"},
{"p":"r3c4","k":"a","t":"Corr: 0.741***"},{"p":"r3c4","k":"b","t":"\u00a0Low-risk: 0.864***"},{"p":"r3c4","k":"c","t":"High-risk: 0.653**\u00a0"},
{"p":"r3c5","k":"a","t":"Corr: 0.623***"},{"p":"r3c5","k":"b","t":"\u00a0Low-risk: 0.811***"},{"p":"r3c5","k":"c","t":"High-risk: 0.344\u00a0\u00a0\u00a0"},
{"p":"r3c6","k":"a","t":"Corr: -0.402*"},{"p":"r3c6","k":"b","t":"\u00a0Low-risk: -0.978***"},{"p":"r3c6","k":"c","t":"High-risk: 0.368\u00a0\u00a0\u00a0\u00a0"},
{"p":"r4c5","k":"a","t":"Corr: 0.548**"},{"p":"r4c5","k":"b","t":"\u00a0Low-risk: 0.864***"},{"p":"r4c5","k":"c","t":"High-risk: 0.297\u00a0\u00a0\u00a0"},
{"p":"r4c6","k":"a","t":"Corr: -0.348."},{"p":"r4c6","k":"b","t":"\u00a0Low-risk: -0.895***"},{"p":"r4c6","k":"c","t":"High-risk: 0.512*\u00a0\u00a0\u00a0"},
{"p":"r5c6","k":"a","t":"Corr: -0.215"},{"p":"r5c6","k":"b","t":"\u00a0Low-risk: -0.846***"},{"p":"r5c6","k":"c","t":"High-risk: 0.418\u00a0\u00a0\u00a0\u00a0"}
]
},
"concat":[
{"width":188.6,"height":109.6,"resolve":{"scale":{"x":"independent","y":"independent"}},"layer":[
 {"data":{"values":[{"lab":"STAT1"}]},"layer":[
  {"mark":{"type":"rect","fill":"#FFFFFF","stroke":"#333333","strokeWidth":1.3},"encoding":{"x":{"datum":0,"type":"quantitative","scale":{"domain":[0,1],"range":[0,188.6]},"axis":null},"x2":{"datum":1},"y":{"datum":0,"type":"quantitative","scale":{"domain":[0,1],"range":[0,21.6]},"axis":null},"y2":{"datum":1}}},
  {"mark":{"type":"text","fontSize":11.3,"color":"#1A1A1A","baseline":"middle"},"encoding":{"x":{"datum":0.5,"type":"quantitative","scale":{"domain":[0,1],"range":[0,188.6]},"axis":null},"y":{"datum":0.5,"type":"quantitative","scale":{"domain":[0,1],"range":[0,21.6]},"axis":null},"text":{"field":"lab"}}}]},
 {"data":{"name":"dens"},"transform":[{"filter":"datum.v==='STAT1'"}],"layer":[
  {"transform":[{"filter":"datum.g==='Low-risk'"}],"mark":{"type":"area","interpolate":"monotone","fill":"#6D6D6D","fillOpacity":0.5,"line":{"color":"#000000","strokeWidth":1.1}},"encoding":{"x":{"field":"x","type":"quantitative","scale":{"domain":[14.595,17.235],"nice":false,"zero":false},"axis":null},"y":{"field":"y","type":"quantitative","scale":{"domain":[-0.029,0.605],"range":[109.6,22.6],"nice":false,"zero":false},"axis":{"values":[0,0.2,0.4,0.6],"format":".1f","title":null,"tickCount":20}},"y2":{"datum":0}}},
  {"transform":[{"filter":"datum.g==='High-risk'"}],"mark":{"type":"area","interpolate":"monotone","fill":"#FF1F41","fillOpacity":0.5,"line":{"color":"#000000","strokeWidth":1.1}},"encoding":{"x":{"field":"x","type":"quantitative","scale":{"domain":[14.595,17.235],"nice":false,"zero":false},"axis":null},"y":{"field":"y","type":"quantitative","scale":{"domain":[-0.029,0.605],"range":[109.6,22.6],"nice":false,"zero":false}},"y2":{"datum":0}}}]}
]},
{"width":188.6,"height":109.6,"resolve":{"scale":{"x":"independent","y":"independent"}},"layer":[
 {"data":{"values":[{"lab":"STAT2"}]},"layer":[
  {"mark":{"type":"rect","fill":"#FFFFFF","stroke":"#333333","strokeWidth":1.3},"encoding":{"x":{"datum":0,"type":"quantitative","scale":{"domain":[0,1],"range":[0,188.6]},"axis":null},"x2":{"datum":1},"y":{"datum":0,"type":"quantitative","scale":{"domain":[0,1],"range":[0,21.6]},"axis":null},"y2":{"datum":1}}},
  {"mark":{"type":"text","fontSize":11.3,"color":"#1A1A1A","baseline":"middle"},"encoding":{"x":{"datum":0.5,"type":"quantitative","scale":{"domain":[0,1],"range":[0,188.6]},"axis":null},"y":{"datum":0.5,"type":"quantitative","scale":{"domain":[0,1],"range":[0,21.6]},"axis":null},"text":{"field":"lab"}}}]},
 {"data":{"name":"txt"},"transform":[{"filter":"datum.p==='r1c2'"}],"mark":{"type":"text","font":"Liberation Mono","fontSize":14.6,"baseline":"middle"},"encoding":{"x":{"datum":0.5,"type":"quantitative","scale":{"domain":[0,1],"range":[0,188.6]},"axis":null},"y":{"field":"k","type":"nominal","scale":{"type":"point","domain":["a","b","c"],"range":[34.6,90.6],"padding":0},"axis":null},"text":{"field":"t"},"color":{"condition":{"test":"datum.k==='c'","value":"#FF3040"},"value":"#6E6E6E"}}}
]},
{"width":188.6,"height":109.6,"resolve":{"scale":{"x":"independent","y":"independent"}},"layer":[
 {"data":{"values":[{"lab":"STAT3"}]},"layer":[
  {"mark":{"type":"rect","fill":"#FFFFFF","stroke":"#333333","strokeWidth":1.3},"encoding":{"x":{"datum":0,"type":"quantitative","scale":{"domain":[0,1],"range":[0,188.6]},"axis":null},"x2":{"datum":1},"y":{"datum":0,"type":"quantitative","scale":{"domain":[0,1],"range":[0,21.6]},"axis":null},"y2":{"datum":1}}},
  {"mark":{"type":"text","fontSize":11.3,"color":"#1A1A1A","baseline":"middle"},"encoding":{"x":{"datum":0.5,"type":"quantitative","scale":{"domain":[0,1],"range":[0,188.6]},"axis":null},"y":{"datum":0.5,"type":"quantitative","scale":{"domain":[0,1],"range":[0,21.6]},"axis":null},"text":{"field":"lab"}}}]},
 {"data":{"name":"txt"},"transform":[{"filter":"datum.p==='r1c3'"}],"mark":{"type":"text","font":"Liberation Mono","fontSize":14.6,"baseline":"middle"},"encoding":{"x":{"datum":0.5,"type":"quantitative","scale":{"domain":[0,1],"range":[0,188.6]},"axis":null},"y":{"field":"k","type":"nominal","scale":{"type":"point","domain":["a","b","c"],"range":[34.6,90.6],"padding":0},"axis":null},"text":{"field":"t"},"color":{"condition":{"test":"datum.k==='c'","value":"#FF3040"},"value":"#6E6E6E"}}}
]},
{"width":188.6,"height":109.6,"resolve":{"scale":{"x":"independent","y":"independent"}},"layer":[
 {"data":{"values":[{"lab":"JAK1"}]},"layer":[
  {"mark":{"type":"rect","fill":"#FFFFFF","stroke":"#333333","strokeWidth":1.3},"encoding":{"x":{"datum":0,"type":"quantitative","scale":{"domain":[0,1],"range":[0,188.6]},"axis":null},"x2":{"datum":1},"y":{"datum":0,"type":"quantitative","scale":{"domain":[0,1],"range":[0,21.6]},"axis":null},"y2":{"datum":1}}},
  {"mark":{"type":"text","fontSize":11.3,"color":"#1A1A1A","baseline":"middle"},"encoding":{"x":{"datum":0.5,"type":"quantitative","scale":{"domain":[0,1],"range":[0,188.6]},"axis":null},"y":{"datum":0.5,"type":"quantitative","scale":{"domain":[0,1],"range":[0,21.6]},"axis":null},"text":{"field":"lab"}}}]},
 {"data":{"name":"txt"},"transform":[{"filter":"datum.p==='r1c4'"}],"mark":{"type":"text","font":"Liberation Mono","fontSize":14.6,"baseline":"middle"},"encoding":{"x":{"datum":0.5,"type":"quantitative","scale":{"domain":[0,1],"range":[0,188.6]},"axis":null},"y":{"field":"k","type":"nominal","scale":{"type":"point","domain":["a","b","c"],"range":[34.6,90.6],"padding":0},"axis":null},"text":{"field":"t"},"color":{"condition":{"test":"datum.k==='c'","value":"#FF3040"},"value":"#6E6E6E"}}}
]},
{"width":188.6,"height":109.6,"resolve":{"scale":{"x":"independent","y":"independent"}},"layer":[
 {"data":{"values":[{"lab":"JAK2"}]},"layer":[
  {"mark":{"type":"rect","fill":"#FFFFFF","stroke":"#333333","strokeWidth":1.3},"encoding":{"x":{"datum":0,"type":"quantitative","scale":{"domain":[0,1],"range":[0,188.6]},"axis":null},"x2":{"datum":1},"y":{"datum":0,"type":"quantitative","scale":{"domain":[0,1],"range":[0,21.6]},"axis":null},"y2":{"datum":1}}},
  {"mark":{"type":"text","fontSize":11.3,"color":"#1A1A1A","baseline":"middle"},"encoding":{"x":{"datum":0.5,"type":"quantitative","scale":{"domain":[0,1],"range":[0,188.6]},"axis":null},"y":{"datum":0.5,"type":"quantitative","scale":{"domain":[0,1],"range":[0,21.6]},"axis":null},"text":{"field":"lab"}}}]},
 {"data":{"name":"txt"},"transform":[{"filter":"datum.p==='r1c5'"}],"mark":{"type":"text","font":"Liberation Mono","fontSize":14.6,"baseline":"middle"},"encoding":{"x":{"datum":0.5,"type":"quantitative","scale":{"domain":[0,1],"range":[0,188.6]},"axis":null},"y":{"field":"k","type":"nominal","scale":{"type":"point","domain":["a","b","c"],"range":[34.6,90.6],"padding":0},"axis":null},"text":{"field":"t"},"color":{"condition":{"test":"datum.k==='c'","value":"#FF3040"},"value":"#6E6E6E"}}}
]},
{"width":208.3,"height":109.6,"resolve":{"scale":{"x":"independent","y":"independent"}},"layer":[
 {"data":{"values":[{"lab":"NKIRAS1"}]},"layer":[
  {"mark":{"type":"rect","fill":"#FFFFFF","stroke":"#333333","strokeWidth":1.3},"encoding":{"x":{"datum":0,"type":"quantitative","scale":{"domain":[0,1],"range":[0,188.6]},"axis":null},"x2":{"datum":1},"y":{"datum":0,"type":"quantitative","scale":{"domain":[0,1],"range":[0,21.6]},"axis":null},"y2":{"datum":1}}},
  {"mark":{"type":"text","fontSize":11.3,"color":"#1A1A1A","baseline":"middle"},"encoding":{"x":{"datum":0.5,"type":"quantitative","scale":{"domain":[0,1],"range":[0,188.6]},"axis":null},"y":{"datum":0.5,"type":"quantitative","scale":{"domain":[0,1],"range":[0,21.6]},"axis":null},"text":{"field":"lab"}}}]},
 {"data":{"values":[{"lab":"STAT1"}]},"layer":[
  {"mark":{"type":"rect","fill":"#FFFFFF","stroke":"#333333","strokeWidth":1.3,"clip":true},"encoding":{"x":{"datum":0,"type":"quantitative","scale":{"domain":[0,1],"range":[190,208.6]},"axis":null},"x2":{"datum":1.3},"y":{"datum":0,"type":"quantitative","scale":{"domain":[0,1],"range":[22.6,109.6]},"axis":null},"y2":{"datum":1}}},
  {"mark":{"type":"text","fontSize":11.3,"color":"#1A1A1A","baseline":"middle","angle":90},"encoding":{"x":{"datum":0.5,"type":"quantitative","scale":{"domain":[0,1],"range":[190,208.6]},"axis":null},"y":{"datum":0.5,"type":"quantitative","scale":{"domain":[0,1],"range":[22.6,109.6]},"axis":null},"text":{"field":"lab"}}}]},
 {"data":{"name":"txt"},"transform":[{"filter":"datum.p==='r1c6'"}],"mark":{"type":"text","font":"Liberation Mono","fontSize":14.6,"baseline":"middle"},"encoding":{"x":{"datum":0.5,"type":"quantitative","scale":{"domain":[0,1],"range":[0,188.6]},"axis":null},"y":{"field":"k","type":"nominal","scale":{"type":"point","domain":["a","b","c"],"range":[34.6,90.6],"padding":0},"axis":null},"text":{"field":"t"},"color":{"condition":{"test":"datum.k==='c'","value":"#FF3040"},"value":"#6E6E6E"}}}
]},

{"width":188.6,"height":87,"data":{"name":"reg"},"transform":[{"filter":"datum.p==='r2c1'"}],"layer":[
 {"data":{"name":"pts"},"transform":[{"filter":"datum.p==='r2c1'"}],"mark":{"type":"circle","size":5,"fillOpacity":0.35,"clip":true},"encoding":{"x":{"field":"x","type":"quantitative","scale":{"domain":[14.595,17.235],"nice":false,"zero":false},"axis":null},"y":{"field":"y","type":"quantitative","scale":{"domain":[11.99,14.35],"nice":false,"zero":false}},"color":{"field":"g","type":"nominal","title":null,"scale":{"domain":["Low-risk","High-risk"],"range":["#595959","#FF2A3A"]}}}},
 {"mark":{"type":"area","interpolate":"monotone","color":"#999999","opacity":0.4,"clip":true},"encoding":{"x":{"field":"x","type":"quantitative","scale":{"domain":[14.595,17.235],"nice":false,"zero":false},"axis":null},"y":{"field":"lo","type":"quantitative","scale":{"domain":[11.99,14.35],"nice":false,"zero":false},"axis":{"values":[12,12.5,13,13.5,14],"format":".1f","title":null,"tickCount":20}},"y2":{"field":"hi"},"detail":{"field":"g"}}},
 {"mark":{"type":"line","strokeWidth":2.7,"clip":true},"encoding":{"x":{"field":"x","type":"quantitative","scale":{"domain":[14.595,17.235],"nice":false,"zero":false},"axis":null},"y":{"field":"f","type":"quantitative","scale":{"domain":[11.99,14.35],"nice":false,"zero":false}},"color":{"field":"g","type":"nominal","title":null,"scale":{"domain":["Low-risk","High-risk"],"range":["#595959","#FF2A3A"]},"legend":{"orient":"none","legendX":512,"legendY":628,"direction":"horizontal","symbolType":"stroke","symbolStrokeWidth":3,"symbolSize":300,"symbolOpacity":1,"labelFontSize":11.5,"labelColor":"#1A1A1A","columnPadding":8,"labelOffset":8}}}}
]},
{"width":188.6,"height":87,"data":{"name":"dens"},"transform":[{"filter":"datum.v==='STAT2'"}],"layer":[
 {"transform":[{"filter":"datum.g==='Low-risk'"}],"mark":{"type":"area","interpolate":"monotone","fill":"#6D6D6D","fillOpacity":0.5,"line":{"color":"#000000","strokeWidth":1.1}},"encoding":{"x":{"field":"x","type":"quantitative","scale":{"domain":[11.99,14.49],"nice":false,"zero":false},"axis":null},"y":{"field":"y","type":"quantitative","scale":{"domain":[0,1],"nice":false,"zero":false},"axis":null},"y2":{"datum":0.046}}},
 {"transform":[{"filter":"datum.g==='High-risk'"}],"mark":{"type":"area","interpolate":"monotone","fill":"#FF1F41","fillOpacity":0.5,"line":{"color":"#000000","strokeWidth":1.1}},"encoding":{"x":{"field":"x","type":"quantitative","scale":{"domain":[11.99,14.49],"nice":false,"zero":false},"axis":null},"y":{"field":"y","type":"quantitative","scale":{"domain":[0,1],"nice":false,"zero":false},"axis":null},"y2":{"datum":0.046}}}
]},
{"width":188.6,"height":87,"data":{"name":"txt"},"transform":[{"filter":"datum.p==='r2c3'"}],"mark":{"type":"text","font":"Liberation Mono","fontSize":14.6,"baseline":"middle"},"encoding":{"x":{"datum":0.5,"type":"quantitative","scale":{"domain":[0,1],"range":[0,188.6]},"axis":null},"y":{"field":"k","type":"nominal","scale":{"type":"point","domain":["a","b","c"],"range":[12,68],"padding":0},"axis":null},"text":{"field":"t"},"color":{"condition":{"test":"datum.k==='c'","value":"#FF3040"},"value":"#6E6E6E"}}},
{"width":188.6,"height":87,"data":{"name":"txt"},"transform":[{"filter":"datum.p==='r2c4'"}],"mark":{"type":"text","font":"Liberation Mono","fontSize":14.6,"baseline":"middle"},"encoding":{"x":{"datum":0.5,"type":"quantitative","scale":{"domain":[0,1],"range":[0,188.6]},"axis":null},"y":{"field":"k","type":"nominal","scale":{"type":"point","domain":["a","b","c"],"range":[12,68],"padding":0},"axis":null},"text":{"field":"t"},"color":{"condition":{"test":"datum.k==='c'","value":"#FF3040"},"value":"#6E6E6E"}}},
{"width":188.6,"height":87,"data":{"name":"txt"},"transform":[{"filter":"datum.p==='r2c5'"}],"mark":{"type":"text","font":"Liberation Mono","fontSize":14.6,"baseline":"middle"},"encoding":{"x":{"datum":0.5,"type":"quantitative","scale":{"domain":[0,1],"range":[0,188.6]},"axis":null},"y":{"field":"k","type":"nominal","scale":{"type":"point","domain":["a","b","c"],"range":[12,68],"padding":0},"axis":null},"text":{"field":"t"},"color":{"condition":{"test":"datum.k==='c'","value":"#FF3040"},"value":"#6E6E6E"}}},
{"width":208.3,"height":87,"resolve":{"scale":{"x":"independent","y":"independent"}},"layer":[
 {"data":{"values":[{"lab":"STAT2"}]},"layer":[
  {"mark":{"type":"rect","fill":"#FFFFFF","stroke":"#333333","strokeWidth":1.3,"clip":true},"encoding":{"x":{"datum":0,"type":"quantitative","scale":{"domain":[0,1],"range":[190,208.6]},"axis":null},"x2":{"datum":1.3},"y":{"datum":0,"type":"quantitative","scale":{"domain":[0,1],"range":[0,87]},"axis":null},"y2":{"datum":1}}},
  {"mark":{"type":"text","fontSize":11.3,"color":"#1A1A1A","baseline":"middle","angle":90},"encoding":{"x":{"datum":0.5,"type":"quantitative","scale":{"domain":[0,1],"range":[190,208.6]},"axis":null},"y":{"datum":0.5,"type":"quantitative","scale":{"domain":[0,1],"range":[0,87]},"axis":null},"text":{"field":"lab"}}}]},
 {"data":{"name":"txt"},"transform":[{"filter":"datum.p==='r2c6'"}],"mark":{"type":"text","font":"Liberation Mono","fontSize":14.6,"baseline":"middle"},"encoding":{"x":{"datum":0.5,"type":"quantitative","scale":{"domain":[0,1],"range":[0,188.6]},"axis":null},"y":{"field":"k","type":"nominal","scale":{"type":"point","domain":["a","b","c"],"range":[12,68],"padding":0},"axis":null},"text":{"field":"t"},"color":{"condition":{"test":"datum.k==='c'","value":"#FF3040"},"value":"#6E6E6E"}}}
]},

{"width":188.6,"height":87,"data":{"name":"reg"},"transform":[{"filter":"datum.p==='r3c1'"}],"layer":[
 {"data":{"name":"pts"},"transform":[{"filter":"datum.p==='r3c1'"}],"mark":{"type":"circle","size":5,"fillOpacity":0.35,"clip":true},"encoding":{"x":{"field":"x","type":"quantitative","scale":{"domain":[14.595,17.235],"nice":false,"zero":false},"axis":null},"y":{"field":"y","type":"quantitative","scale":{"domain":[13.936,15.292],"nice":false,"zero":false}},"color":{"field":"g","type":"nominal","title":null,"scale":{"domain":["Low-risk","High-risk"],"range":["#595959","#FF2A3A"]}}}},
 {"mark":{"type":"area","interpolate":"monotone","color":"#999999","opacity":0.4,"clip":true},"encoding":{"x":{"field":"x","type":"quantitative","scale":{"domain":[14.595,17.235],"nice":false,"zero":false},"axis":null},"y":{"field":"lo","type":"quantitative","scale":{"domain":[13.936,15.292],"nice":false,"zero":false},"axis":{"values":[14,14.4,14.8,15.2],"format":".1f","title":null,"tickCount":20}},"y2":{"field":"hi"},"detail":{"field":"g"}}},
 {"mark":{"type":"line","strokeWidth":2.7,"clip":true},"encoding":{"x":{"field":"x","type":"quantitative","scale":{"domain":[14.595,17.235],"nice":false,"zero":false},"axis":null},"y":{"field":"f","type":"quantitative","scale":{"domain":[13.936,15.292],"nice":false,"zero":false}},"color":{"field":"g","type":"nominal","title":null,"scale":{"domain":["Low-risk","High-risk"],"range":["#595959","#FF2A3A"]}}}}
]},
{"width":188.6,"height":87,"data":{"name":"reg"},"transform":[{"filter":"datum.p==='r3c2'"}],"layer":[
 {"data":{"name":"pts"},"transform":[{"filter":"datum.p==='r3c2'"}],"mark":{"type":"circle","size":5,"fillOpacity":0.35,"clip":true},"encoding":{"x":{"field":"x","type":"quantitative","scale":{"domain":[11.99,14.49],"nice":false,"zero":false},"axis":null},"y":{"field":"y","type":"quantitative","scale":{"domain":[13.936,15.292],"nice":false,"zero":false},"axis":null},"color":{"field":"g","type":"nominal","title":null,"scale":{"domain":["Low-risk","High-risk"],"range":["#595959","#FF2A3A"]}}}},
 {"mark":{"type":"area","interpolate":"monotone","color":"#999999","opacity":0.4,"clip":true},"encoding":{"x":{"field":"x","type":"quantitative","scale":{"domain":[11.99,14.49],"nice":false,"zero":false},"axis":null},"y":{"field":"lo","type":"quantitative","scale":{"domain":[13.936,15.292],"nice":false,"zero":false},"axis":null},"y2":{"field":"hi"},"detail":{"field":"g"}}},
 {"mark":{"type":"line","strokeWidth":2.7,"clip":true},"encoding":{"x":{"field":"x","type":"quantitative","scale":{"domain":[11.99,14.49],"nice":false,"zero":false},"axis":null},"y":{"field":"f","type":"quantitative","scale":{"domain":[13.936,15.292],"nice":false,"zero":false},"axis":null},"color":{"field":"g","type":"nominal","title":null,"scale":{"domain":["Low-risk","High-risk"],"range":["#595959","#FF2A3A"]}}}}
]},
{"width":188.6,"height":87,"data":{"name":"dens"},"transform":[{"filter":"datum.v==='STAT3'"}],"layer":[
 {"transform":[{"filter":"datum.g==='Low-risk'"}],"mark":{"type":"area","interpolate":"monotone","fill":"#6D6D6D","fillOpacity":0.5,"line":{"color":"#000000","strokeWidth":1.1}},"encoding":{"x":{"field":"x","type":"quantitative","scale":{"domain":[13.935,15.315],"nice":false,"zero":false},"axis":null},"y":{"field":"y","type":"quantitative","scale":{"domain":[0,1],"nice":false,"zero":false},"axis":null},"y2":{"datum":0.046}}},
 {"transform":[{"filter":"datum.g==='High-risk'"}],"mark":{"type":"area","interpolate":"monotone","fill":"#FF1F41","fillOpacity":0.5,"line":{"color":"#000000","strokeWidth":1.1}},"encoding":{"x":{"field":"x","type":"quantitative","scale":{"domain":[13.935,15.315],"nice":false,"zero":false},"axis":null},"y":{"field":"y","type":"quantitative","scale":{"domain":[0,1],"nice":false,"zero":false},"axis":null},"y2":{"datum":0.046}}}
]},
{"width":188.6,"height":87,"data":{"name":"txt"},"transform":[{"filter":"datum.p==='r3c4'"}],"mark":{"type":"text","font":"Liberation Mono","fontSize":14.6,"baseline":"middle"},"encoding":{"x":{"datum":0.5,"type":"quantitative","scale":{"domain":[0,1],"range":[0,188.6]},"axis":null},"y":{"field":"k","type":"nominal","scale":{"type":"point","domain":["a","b","c"],"range":[12,68],"padding":0},"axis":null},"text":{"field":"t"},"color":{"condition":{"test":"datum.k==='c'","value":"#FF3040"},"value":"#6E6E6E"}}},
{"width":188.6,"height":87,"data":{"name":"txt"},"transform":[{"filter":"datum.p==='r3c5'"}],"mark":{"type":"text","font":"Liberation Mono","fontSize":14.6,"baseline":"middle"},"encoding":{"x":{"datum":0.5,"type":"quantitative","scale":{"domain":[0,1],"range":[0,188.6]},"axis":null},"y":{"field":"k","type":"nominal","scale":{"type":"point","domain":["a","b","c"],"range":[12,68],"padding":0},"axis":null},"text":{"field":"t"},"color":{"condition":{"test":"datum.k==='c'","value":"#FF3040"},"value":"#6E6E6E"}}},
{"width":208.3,"height":87,"resolve":{"scale":{"x":"independent","y":"independent"}},"layer":[
 {"data":{"values":[{"lab":"STAT3"}]},"layer":[
  {"mark":{"type":"rect","fill":"#FFFFFF","stroke":"#333333","strokeWidth":1.3,"clip":true},"encoding":{"x":{"datum":0,"type":"quantitative","scale":{"domain":[0,1],"range":[190,208.6]},"axis":null},"x2":{"datum":1.3},"y":{"datum":0,"type":"quantitative","scale":{"domain":[0,1],"range":[0,87]},"axis":null},"y2":{"datum":1}}},
  {"mark":{"type":"text","fontSize":11.3,"color":"#1A1A1A","baseline":"middle","angle":90},"encoding":{"x":{"datum":0.5,"type":"quantitative","scale":{"domain":[0,1],"range":[190,208.6]},"axis":null},"y":{"datum":0.5,"type":"quantitative","scale":{"domain":[0,1],"range":[0,87]},"axis":null},"text":{"field":"lab"}}}]},
 {"data":{"name":"txt"},"transform":[{"filter":"datum.p==='r3c6'"}],"mark":{"type":"text","font":"Liberation Mono","fontSize":14.6,"baseline":"middle"},"encoding":{"x":{"datum":0.5,"type":"quantitative","scale":{"domain":[0,1],"range":[0,188.6]},"axis":null},"y":{"field":"k","type":"nominal","scale":{"type":"point","domain":["a","b","c"],"range":[12,68],"padding":0},"axis":null},"text":{"field":"t"},"color":{"condition":{"test":"datum.k==='c'","value":"#FF3040"},"value":"#6E6E6E"}}}
]},

{"width":188.6,"height":87,"data":{"name":"reg"},"transform":[{"filter":"datum.p==='r4c1'"}],"layer":[
 {"data":{"name":"pts"},"transform":[{"filter":"datum.p==='r4c1'"}],"mark":{"type":"circle","size":5,"fillOpacity":0.35,"clip":true},"encoding":{"x":{"field":"x","type":"quantitative","scale":{"domain":[14.595,17.235],"nice":false,"zero":false},"axis":null},"y":{"field":"y","type":"quantitative","scale":{"domain":[13.767,15.58],"nice":false,"zero":false}},"color":{"field":"g","type":"nominal","title":null,"scale":{"domain":["Low-risk","High-risk"],"range":["#595959","#FF2A3A"]}}}},
 {"mark":{"type":"area","interpolate":"monotone","color":"#999999","opacity":0.4,"clip":true},"encoding":{"x":{"field":"x","type":"quantitative","scale":{"domain":[14.595,17.235],"nice":false,"zero":false},"axis":null},"y":{"field":"lo","type":"quantitative","scale":{"domain":[13.767,15.58],"nice":false,"zero":false},"axis":{"values":[14,14.5,15,15.5],"format":".1f","title":null,"tickCount":20}},"y2":{"field":"hi"},"detail":{"field":"g"}}},
 {"mark":{"type":"line","strokeWidth":2.7,"clip":true},"encoding":{"x":{"field":"x","type":"quantitative","scale":{"domain":[14.595,17.235],"nice":false,"zero":false},"axis":null},"y":{"field":"f","type":"quantitative","scale":{"domain":[13.767,15.58],"nice":false,"zero":false}},"color":{"field":"g","type":"nominal","title":null,"scale":{"domain":["Low-risk","High-risk"],"range":["#595959","#FF2A3A"]}}}}
]},
{"width":188.6,"height":87,"data":{"name":"reg"},"transform":[{"filter":"datum.p==='r4c2'"}],"layer":[
 {"data":{"name":"pts"},"transform":[{"filter":"datum.p==='r4c2'"}],"mark":{"type":"circle","size":5,"fillOpacity":0.35,"clip":true},"encoding":{"x":{"field":"x","type":"quantitative","scale":{"domain":[11.99,14.49],"nice":false,"zero":false},"axis":null},"y":{"field":"y","type":"quantitative","scale":{"domain":[13.767,15.58],"nice":false,"zero":false},"axis":null},"color":{"field":"g","type":"nominal","title":null,"scale":{"domain":["Low-risk","High-risk"],"range":["#595959","#FF2A3A"]}}}},
 {"mark":{"type":"area","interpolate":"monotone","color":"#999999","opacity":0.4,"clip":true},"encoding":{"x":{"field":"x","type":"quantitative","scale":{"domain":[11.99,14.49],"nice":false,"zero":false},"axis":null},"y":{"field":"lo","type":"quantitative","scale":{"domain":[13.767,15.58],"nice":false,"zero":false},"axis":null},"y2":{"field":"hi"},"detail":{"field":"g"}}},
 {"mark":{"type":"line","strokeWidth":2.7,"clip":true},"encoding":{"x":{"field":"x","type":"quantitative","scale":{"domain":[11.99,14.49],"nice":false,"zero":false},"axis":null},"y":{"field":"f","type":"quantitative","scale":{"domain":[13.767,15.58],"nice":false,"zero":false},"axis":null},"color":{"field":"g","type":"nominal","title":null,"scale":{"domain":["Low-risk","High-risk"],"range":["#595959","#FF2A3A"]}}}}
]},
{"width":188.6,"height":87,"data":{"name":"reg"},"transform":[{"filter":"datum.p==='r4c3'"}],"layer":[
 {"data":{"name":"pts"},"transform":[{"filter":"datum.p==='r4c3'"}],"mark":{"type":"circle","size":5,"fillOpacity":0.35,"clip":true},"encoding":{"x":{"field":"x","type":"quantitative","scale":{"domain":[13.935,15.315],"nice":false,"zero":false},"axis":null},"y":{"field":"y","type":"quantitative","scale":{"domain":[13.767,15.58],"nice":false,"zero":false},"axis":null},"color":{"field":"g","type":"nominal","title":null,"scale":{"domain":["Low-risk","High-risk"],"range":["#595959","#FF2A3A"]}}}},
 {"mark":{"type":"area","interpolate":"monotone","color":"#999999","opacity":0.4,"clip":true},"encoding":{"x":{"field":"x","type":"quantitative","scale":{"domain":[13.935,15.315],"nice":false,"zero":false},"axis":null},"y":{"field":"lo","type":"quantitative","scale":{"domain":[13.767,15.58],"nice":false,"zero":false},"axis":null},"y2":{"field":"hi"},"detail":{"field":"g"}}},
 {"mark":{"type":"line","strokeWidth":2.7,"clip":true},"encoding":{"x":{"field":"x","type":"quantitative","scale":{"domain":[13.935,15.315],"nice":false,"zero":false},"axis":null},"y":{"field":"f","type":"quantitative","scale":{"domain":[13.767,15.58],"nice":false,"zero":false},"axis":null},"color":{"field":"g","type":"nominal","title":null,"scale":{"domain":["Low-risk","High-risk"],"range":["#595959","#FF2A3A"]}}}}
]},
{"width":188.6,"height":87,"data":{"name":"dens"},"transform":[{"filter":"datum.v==='JAK1'"}],"layer":[
 {"transform":[{"filter":"datum.g==='Low-risk'"}],"mark":{"type":"area","interpolate":"monotone","fill":"#6D6D6D","fillOpacity":0.5,"line":{"color":"#000000","strokeWidth":1.1}},"encoding":{"x":{"field":"x","type":"quantitative","scale":{"domain":[13.75,15.58],"nice":false,"zero":false},"axis":null},"y":{"field":"y","type":"quantitative","scale":{"domain":[0,1],"nice":false,"zero":false},"axis":null},"y2":{"datum":0.048}}},
 {"transform":[{"filter":"datum.g==='High-risk'"}],"mark":{"type":"area","interpolate":"monotone","fill":"#FF1F41","fillOpacity":0.5,"line":{"color":"#000000","strokeWidth":1.1}},"encoding":{"x":{"field":"x","type":"quantitative","scale":{"domain":[13.75,15.58],"nice":false,"zero":false},"axis":null},"y":{"field":"y","type":"quantitative","scale":{"domain":[0,1],"nice":false,"zero":false},"axis":null},"y2":{"datum":0.048}}}
]},
{"width":188.6,"height":87,"data":{"name":"txt"},"transform":[{"filter":"datum.p==='r4c5'"}],"mark":{"type":"text","font":"Liberation Mono","fontSize":14.6,"baseline":"middle"},"encoding":{"x":{"datum":0.5,"type":"quantitative","scale":{"domain":[0,1],"range":[0,188.6]},"axis":null},"y":{"field":"k","type":"nominal","scale":{"type":"point","domain":["a","b","c"],"range":[12,68],"padding":0},"axis":null},"text":{"field":"t"},"color":{"condition":{"test":"datum.k==='c'","value":"#FF3040"},"value":"#6E6E6E"}}},
{"width":208.3,"height":87,"resolve":{"scale":{"x":"independent","y":"independent"}},"layer":[
 {"data":{"values":[{"lab":"JAK1"}]},"layer":[
  {"mark":{"type":"rect","fill":"#FFFFFF","stroke":"#333333","strokeWidth":1.3,"clip":true},"encoding":{"x":{"datum":0,"type":"quantitative","scale":{"domain":[0,1],"range":[190,208.6]},"axis":null},"x2":{"datum":1.3},"y":{"datum":0,"type":"quantitative","scale":{"domain":[0,1],"range":[0,87]},"axis":null},"y2":{"datum":1}}},
  {"mark":{"type":"text","fontSize":11.3,"color":"#1A1A1A","baseline":"middle","angle":90},"encoding":{"x":{"datum":0.5,"type":"quantitative","scale":{"domain":[0,1],"range":[190,208.6]},"axis":null},"y":{"datum":0.5,"type":"quantitative","scale":{"domain":[0,1],"range":[0,87]},"axis":null},"text":{"field":"lab"}}}]},
 {"data":{"name":"txt"},"transform":[{"filter":"datum.p==='r4c6'"}],"mark":{"type":"text","font":"Liberation Mono","fontSize":14.6,"baseline":"middle"},"encoding":{"x":{"datum":0.5,"type":"quantitative","scale":{"domain":[0,1],"range":[0,188.6]},"axis":null},"y":{"field":"k","type":"nominal","scale":{"type":"point","domain":["a","b","c"],"range":[12,68],"padding":0},"axis":null},"text":{"field":"t"},"color":{"condition":{"test":"datum.k==='c'","value":"#FF3040"},"value":"#6E6E6E"}}}
]},

{"width":188.6,"height":87,"data":{"name":"reg"},"transform":[{"filter":"datum.p==='r5c1'"}],"layer":[
 {"data":{"name":"pts"},"transform":[{"filter":"datum.p==='r5c1'"}],"mark":{"type":"circle","size":5,"fillOpacity":0.35,"clip":true},"encoding":{"x":{"field":"x","type":"quantitative","scale":{"domain":[14.595,17.235],"nice":false,"zero":false},"axis":null},"y":{"field":"y","type":"quantitative","scale":{"domain":[10.772,12.79],"nice":false,"zero":false}},"color":{"field":"g","type":"nominal","title":null,"scale":{"domain":["Low-risk","High-risk"],"range":["#595959","#FF2A3A"]}}}},
 {"mark":{"type":"area","interpolate":"monotone","color":"#999999","opacity":0.4,"clip":true},"encoding":{"x":{"field":"x","type":"quantitative","scale":{"domain":[14.595,17.235],"nice":false,"zero":false},"axis":null},"y":{"field":"lo","type":"quantitative","scale":{"domain":[10.772,12.79],"nice":false,"zero":false},"axis":{"values":[10.8,11.2,11.6,12,12.4],"format":".1f","title":null,"tickCount":20}},"y2":{"field":"hi"},"detail":{"field":"g"}}},
 {"mark":{"type":"line","strokeWidth":2.7,"clip":true},"encoding":{"x":{"field":"x","type":"quantitative","scale":{"domain":[14.595,17.235],"nice":false,"zero":false},"axis":null},"y":{"field":"f","type":"quantitative","scale":{"domain":[10.772,12.79],"nice":false,"zero":false}},"color":{"field":"g","type":"nominal","title":null,"scale":{"domain":["Low-risk","High-risk"],"range":["#595959","#FF2A3A"]}}}}
]},
{"width":188.6,"height":87,"data":{"name":"reg"},"transform":[{"filter":"datum.p==='r5c2'"}],"layer":[
 {"data":{"name":"pts"},"transform":[{"filter":"datum.p==='r5c2'"}],"mark":{"type":"circle","size":5,"fillOpacity":0.35,"clip":true},"encoding":{"x":{"field":"x","type":"quantitative","scale":{"domain":[11.99,14.49],"nice":false,"zero":false},"axis":null},"y":{"field":"y","type":"quantitative","scale":{"domain":[10.772,12.79],"nice":false,"zero":false},"axis":null},"color":{"field":"g","type":"nominal","title":null,"scale":{"domain":["Low-risk","High-risk"],"range":["#595959","#FF2A3A"]}}}},
 {"mark":{"type":"area","interpolate":"monotone","color":"#999999","opacity":0.4,"clip":true},"encoding":{"x":{"field":"x","type":"quantitative","scale":{"domain":[11.99,14.49],"nice":false,"zero":false},"axis":null},"y":{"field":"lo","type":"quantitative","scale":{"domain":[10.772,12.79],"nice":false,"zero":false},"axis":null},"y2":{"field":"hi"},"detail":{"field":"g"}}},
 {"mark":{"type":"line","strokeWidth":2.7,"clip":true},"encoding":{"x":{"field":"x","type":"quantitative","scale":{"domain":[11.99,14.49],"nice":false,"zero":false},"axis":null},"y":{"field":"f","type":"quantitative","scale":{"domain":[10.772,12.79],"nice":false,"zero":false},"axis":null},"color":{"field":"g","type":"nominal","title":null,"scale":{"domain":["Low-risk","High-risk"],"range":["#595959","#FF2A3A"]}}}}
]},
{"width":188.6,"height":87,"data":{"name":"reg"},"transform":[{"filter":"datum.p==='r5c3'"}],"layer":[
 {"data":{"name":"pts"},"transform":[{"filter":"datum.p==='r5c3'"}],"mark":{"type":"circle","size":5,"fillOpacity":0.35,"clip":true},"encoding":{"x":{"field":"x","type":"quantitative","scale":{"domain":[13.935,15.315],"nice":false,"zero":false},"axis":null},"y":{"field":"y","type":"quantitative","scale":{"domain":[10.772,12.79],"nice":false,"zero":false},"axis":null},"color":{"field":"g","type":"nominal","title":null,"scale":{"domain":["Low-risk","High-risk"],"range":["#595959","#FF2A3A"]}}}},
 {"mark":{"type":"area","interpolate":"monotone","color":"#999999","opacity":0.4,"clip":true},"encoding":{"x":{"field":"x","type":"quantitative","scale":{"domain":[13.935,15.315],"nice":false,"zero":false},"axis":null},"y":{"field":"lo","type":"quantitative","scale":{"domain":[10.772,12.79],"nice":false,"zero":false},"axis":null},"y2":{"field":"hi"},"detail":{"field":"g"}}},
 {"mark":{"type":"line","strokeWidth":2.7,"clip":true},"encoding":{"x":{"field":"x","type":"quantitative","scale":{"domain":[13.935,15.315],"nice":false,"zero":false},"axis":null},"y":{"field":"f","type":"quantitative","scale":{"domain":[10.772,12.79],"nice":false,"zero":false},"axis":null},"color":{"field":"g","type":"nominal","title":null,"scale":{"domain":["Low-risk","High-risk"],"range":["#595959","#FF2A3A"]}}}}
]},
{"width":188.6,"height":87,"data":{"name":"reg"},"transform":[{"filter":"datum.p==='r5c4'"}],"layer":[
 {"data":{"name":"pts"},"transform":[{"filter":"datum.p==='r5c4'"}],"mark":{"type":"circle","size":5,"fillOpacity":0.35,"clip":true},"encoding":{"x":{"field":"x","type":"quantitative","scale":{"domain":[13.75,15.58],"nice":false,"zero":false},"axis":null},"y":{"field":"y","type":"quantitative","scale":{"domain":[10.772,12.79],"nice":false,"zero":false},"axis":null},"color":{"field":"g","type":"nominal","title":null,"scale":{"domain":["Low-risk","High-risk"],"range":["#595959","#FF2A3A"]}}}},
 {"mark":{"type":"area","interpolate":"monotone","color":"#999999","opacity":0.4,"clip":true},"encoding":{"x":{"field":"x","type":"quantitative","scale":{"domain":[13.75,15.58],"nice":false,"zero":false},"axis":null},"y":{"field":"lo","type":"quantitative","scale":{"domain":[10.772,12.79],"nice":false,"zero":false},"axis":null},"y2":{"field":"hi"},"detail":{"field":"g"}}},
 {"mark":{"type":"line","strokeWidth":2.7,"clip":true},"encoding":{"x":{"field":"x","type":"quantitative","scale":{"domain":[13.75,15.58],"nice":false,"zero":false},"axis":null},"y":{"field":"f","type":"quantitative","scale":{"domain":[10.772,12.79],"nice":false,"zero":false},"axis":null},"color":{"field":"g","type":"nominal","title":null,"scale":{"domain":["Low-risk","High-risk"],"range":["#595959","#FF2A3A"]}}}}
]},
{"width":188.6,"height":87,"data":{"name":"dens"},"transform":[{"filter":"datum.v==='JAK2'"}],"layer":[
 {"transform":[{"filter":"datum.g==='Low-risk'"}],"mark":{"type":"area","interpolate":"monotone","fill":"#6D6D6D","fillOpacity":0.5,"line":{"color":"#000000","strokeWidth":1.1}},"encoding":{"x":{"field":"x","type":"quantitative","scale":{"domain":[10.74,12.786],"nice":false,"zero":false},"axis":null},"y":{"field":"y","type":"quantitative","scale":{"domain":[0,1],"nice":false,"zero":false},"axis":null},"y2":{"datum":0.048}}},
 {"transform":[{"filter":"datum.g==='High-risk'"}],"mark":{"type":"area","interpolate":"monotone","fill":"#FF1F41","fillOpacity":0.5,"line":{"color":"#000000","strokeWidth":1.1}},"encoding":{"x":{"field":"x","type":"quantitative","scale":{"domain":[10.74,12.786],"nice":false,"zero":false},"axis":null},"y":{"field":"y","type":"quantitative","scale":{"domain":[0,1],"nice":false,"zero":false},"axis":null},"y2":{"datum":0.048}}}
]},
{"width":208.3,"height":87,"resolve":{"scale":{"x":"independent","y":"independent"}},"layer":[
 {"data":{"values":[{"lab":"JAK2"}]},"layer":[
  {"mark":{"type":"rect","fill":"#FFFFFF","stroke":"#333333","strokeWidth":1.3,"clip":true},"encoding":{"x":{"datum":0,"type":"quantitative","scale":{"domain":[0,1],"range":[190,208.6]},"axis":null},"x2":{"datum":1.3},"y":{"datum":0,"type":"quantitative","scale":{"domain":[0,1],"range":[0,87]},"axis":null},"y2":{"datum":1}}},
  {"mark":{"type":"text","fontSize":11.3,"color":"#1A1A1A","baseline":"middle","angle":90},"encoding":{"x":{"datum":0.5,"type":"quantitative","scale":{"domain":[0,1],"range":[190,208.6]},"axis":null},"y":{"datum":0.5,"type":"quantitative","scale":{"domain":[0,1],"range":[0,87]},"axis":null},"text":{"field":"lab"}}}]},
 {"data":{"name":"txt"},"transform":[{"filter":"datum.p==='r5c6'"}],"mark":{"type":"text","font":"Liberation Mono","fontSize":14.6,"baseline":"middle"},"encoding":{"x":{"datum":0.5,"type":"quantitative","scale":{"domain":[0,1],"range":[0,188.6]},"axis":null},"y":{"field":"k","type":"nominal","scale":{"type":"point","domain":["a","b","c"],"range":[12,68],"padding":0},"axis":null},"text":{"field":"t"},"color":{"condition":{"test":"datum.k==='c'","value":"#FF3040"},"value":"#6E6E6E"}}}
]},

{"width":188.6,"height":87,"data":{"name":"reg"},"transform":[{"filter":"datum.p==='r6c1'"}],"layer":[
 {"data":{"name":"pts"},"transform":[{"filter":"datum.p==='r6c1'"}],"mark":{"type":"circle","size":5,"fillOpacity":0.35,"clip":true},"encoding":{"x":{"field":"x","type":"quantitative","scale":{"domain":[14.595,17.235],"nice":false,"zero":false}},"y":{"field":"y","type":"quantitative","scale":{"domain":[10.758,11.889],"nice":false,"zero":false}},"color":{"field":"g","type":"nominal","title":null,"scale":{"domain":["Low-risk","High-risk"],"range":["#595959","#FF2A3A"]}}}},
 {"mark":{"type":"area","interpolate":"monotone","color":"#999999","opacity":0.4,"clip":true},"encoding":{"x":{"field":"x","type":"quantitative","scale":{"domain":[14.595,17.235],"nice":false,"zero":false},"axis":{"values":[15,15.5,16,16.5,17],"format":".1f","title":null,"tickCount":20}},"y":{"field":"lo","type":"quantitative","scale":{"domain":[10.758,11.889],"nice":false,"zero":false},"axis":{"values":[11,11.25,11.5,11.75],"format":".2f","title":null,"tickCount":20}},"y2":{"field":"hi"},"detail":{"field":"g"}}},
 {"mark":{"type":"line","strokeWidth":2.7,"clip":true},"encoding":{"x":{"field":"x","type":"quantitative","scale":{"domain":[14.595,17.235],"nice":false,"zero":false}},"y":{"field":"f","type":"quantitative","scale":{"domain":[10.758,11.889],"nice":false,"zero":false}},"color":{"field":"g","type":"nominal","title":null,"scale":{"domain":["Low-risk","High-risk"],"range":["#595959","#FF2A3A"]}}}}
]},
{"width":188.6,"height":87,"data":{"name":"reg"},"transform":[{"filter":"datum.p==='r6c2'"}],"layer":[
 {"data":{"name":"pts"},"transform":[{"filter":"datum.p==='r6c2'"}],"mark":{"type":"circle","size":5,"fillOpacity":0.35,"clip":true},"encoding":{"x":{"field":"x","type":"quantitative","scale":{"domain":[11.99,14.49],"nice":false,"zero":false}},"y":{"field":"y","type":"quantitative","scale":{"domain":[10.758,11.889],"nice":false,"zero":false},"axis":null},"color":{"field":"g","type":"nominal","title":null,"scale":{"domain":["Low-risk","High-risk"],"range":["#595959","#FF2A3A"]}}}},
 {"mark":{"type":"area","interpolate":"monotone","color":"#999999","opacity":0.4,"clip":true},"encoding":{"x":{"field":"x","type":"quantitative","scale":{"domain":[11.99,14.49],"nice":false,"zero":false},"axis":{"values":[12,12.5,13,13.5,14],"format":".1f","title":null,"tickCount":20}},"y":{"field":"lo","type":"quantitative","scale":{"domain":[10.758,11.889],"nice":false,"zero":false},"axis":null},"y2":{"field":"hi"},"detail":{"field":"g"}}},
 {"mark":{"type":"line","strokeWidth":2.7,"clip":true},"encoding":{"x":{"field":"x","type":"quantitative","scale":{"domain":[11.99,14.49],"nice":false,"zero":false}},"y":{"field":"f","type":"quantitative","scale":{"domain":[10.758,11.889],"nice":false,"zero":false},"axis":null},"color":{"field":"g","type":"nominal","title":null,"scale":{"domain":["Low-risk","High-risk"],"range":["#595959","#FF2A3A"]}}}}
]},
{"width":188.6,"height":87,"data":{"name":"reg"},"transform":[{"filter":"datum.p==='r6c3'"}],"layer":[
 {"data":{"name":"pts"},"transform":[{"filter":"datum.p==='r6c3'"}],"mark":{"type":"circle","size":5,"fillOpacity":0.35,"clip":true},"encoding":{"x":{"field":"x","type":"quantitative","scale":{"domain":[13.935,15.315],"nice":false,"zero":false}},"y":{"field":"y","type":"quantitative","scale":{"domain":[10.758,11.889],"nice":false,"zero":false},"axis":null},"color":{"field":"g","type":"nominal","title":null,"scale":{"domain":["Low-risk","High-risk"],"range":["#595959","#FF2A3A"]}}}},
 {"mark":{"type":"area","interpolate":"monotone","color":"#999999","opacity":0.4,"clip":true},"encoding":{"x":{"field":"x","type":"quantitative","scale":{"domain":[13.935,15.315],"nice":false,"zero":false},"axis":{"values":[14,14.4,14.8,15.2],"format":".1f","title":null,"tickCount":20}},"y":{"field":"lo","type":"quantitative","scale":{"domain":[10.758,11.889],"nice":false,"zero":false},"axis":null},"y2":{"field":"hi"},"detail":{"field":"g"}}},
 {"mark":{"type":"line","strokeWidth":2.7,"clip":true},"encoding":{"x":{"field":"x","type":"quantitative","scale":{"domain":[13.935,15.315],"nice":false,"zero":false}},"y":{"field":"f","type":"quantitative","scale":{"domain":[10.758,11.889],"nice":false,"zero":false},"axis":null},"color":{"field":"g","type":"nominal","title":null,"scale":{"domain":["Low-risk","High-risk"],"range":["#595959","#FF2A3A"]}}}}
]},
{"width":188.6,"height":87,"data":{"name":"reg"},"transform":[{"filter":"datum.p==='r6c4'"}],"layer":[
 {"data":{"name":"pts"},"transform":[{"filter":"datum.p==='r6c4'"}],"mark":{"type":"circle","size":5,"fillOpacity":0.35,"clip":true},"encoding":{"x":{"field":"x","type":"quantitative","scale":{"domain":[13.75,15.58],"nice":false,"zero":false}},"y":{"field":"y","type":"quantitative","scale":{"domain":[10.758,11.889],"nice":false,"zero":false},"axis":null},"color":{"field":"g","type":"nominal","title":null,"scale":{"domain":["Low-risk","High-risk"],"range":["#595959","#FF2A3A"]}}}},
 {"mark":{"type":"area","interpolate":"monotone","color":"#999999","opacity":0.4,"clip":true},"encoding":{"x":{"field":"x","type":"quantitative","scale":{"domain":[13.75,15.58],"nice":false,"zero":false},"axis":{"values":[14,14.5,15,15.5],"format":".1f","title":null,"tickCount":20}},"y":{"field":"lo","type":"quantitative","scale":{"domain":[10.758,11.889],"nice":false,"zero":false},"axis":null},"y2":{"field":"hi"},"detail":{"field":"g"}}},
 {"mark":{"type":"line","strokeWidth":2.7,"clip":true},"encoding":{"x":{"field":"x","type":"quantitative","scale":{"domain":[13.75,15.58],"nice":false,"zero":false}},"y":{"field":"f","type":"quantitative","scale":{"domain":[10.758,11.889],"nice":false,"zero":false},"axis":null},"color":{"field":"g","type":"nominal","title":null,"scale":{"domain":["Low-risk","High-risk"],"range":["#595959","#FF2A3A"]}}}}
]},
{"width":188.6,"height":87,"data":{"name":"reg"},"transform":[{"filter":"datum.p==='r6c5'"}],"layer":[
 {"data":{"name":"pts"},"transform":[{"filter":"datum.p==='r6c5'"}],"mark":{"type":"circle","size":5,"fillOpacity":0.35,"clip":true},"encoding":{"x":{"field":"x","type":"quantitative","scale":{"domain":[10.74,12.786],"nice":false,"zero":false}},"y":{"field":"y","type":"quantitative","scale":{"domain":[10.758,11.889],"nice":false,"zero":false},"axis":null},"color":{"field":"g","type":"nominal","title":null,"scale":{"domain":["Low-risk","High-risk"],"range":["#595959","#FF2A3A"]}}}},
 {"mark":{"type":"area","interpolate":"monotone","color":"#999999","opacity":0.4,"clip":true},"encoding":{"x":{"field":"x","type":"quantitative","scale":{"domain":[10.74,12.786],"nice":false,"zero":false},"axis":{"values":[10.8,11.2,11.6,12,12.4],"format":".1f","title":null,"tickCount":20}},"y":{"field":"lo","type":"quantitative","scale":{"domain":[10.758,11.889],"nice":false,"zero":false},"axis":null},"y2":{"field":"hi"},"detail":{"field":"g"}}},
 {"mark":{"type":"line","strokeWidth":2.7,"clip":true},"encoding":{"x":{"field":"x","type":"quantitative","scale":{"domain":[10.74,12.786],"nice":false,"zero":false}},"y":{"field":"f","type":"quantitative","scale":{"domain":[10.758,11.889],"nice":false,"zero":false},"axis":null},"color":{"field":"g","type":"nominal","title":null,"scale":{"domain":["Low-risk","High-risk"],"range":["#595959","#FF2A3A"]}}}}
]},
{"width":208.3,"height":87,"resolve":{"scale":{"x":"independent","y":"independent"}},"layer":[
 {"data":{"values":[{"lab":"NKIRAS1"}]},"layer":[
  {"mark":{"type":"rect","fill":"#FFFFFF","stroke":"#333333","strokeWidth":1.3,"clip":true},"encoding":{"x":{"datum":0,"type":"quantitative","scale":{"domain":[0,1],"range":[190,208.6]},"axis":null},"x2":{"datum":1.3},"y":{"datum":0,"type":"quantitative","scale":{"domain":[0,1],"range":[0,87]},"axis":null},"y2":{"datum":1}}},
  {"mark":{"type":"text","fontSize":11.3,"color":"#1A1A1A","baseline":"middle","angle":90},"encoding":{"x":{"datum":0.5,"type":"quantitative","scale":{"domain":[0,1],"range":[190,208.6]},"axis":null},"y":{"datum":0.5,"type":"quantitative","scale":{"domain":[0,1],"range":[0,87]},"axis":null},"text":{"field":"lab"}}}]},
 {"data":{"name":"dens"},"transform":[{"filter":"datum.v==='NKIRAS1'"}],"layer":[
  {"transform":[{"filter":"datum.g==='Low-risk'"}],"mark":{"type":"area","interpolate":"monotone","fill":"#6D6D6D","fillOpacity":0.5,"line":{"color":"#000000","strokeWidth":1.1}},"encoding":{"x":{"field":"x","type":"quantitative","scale":{"domain":[10.765,11.874],"range":[0,188.6],"nice":false,"zero":false},"axis":{"values":[11,11.25,11.5,11.75],"format":".2f","title":null,"tickCount":20}},"y":{"field":"y","type":"quantitative","scale":{"domain":[0,1],"nice":false,"zero":false},"axis":null},"y2":{"datum":0.046}}},
  {"transform":[{"filter":"datum.g==='High-risk'"}],"mark":{"type":"area","interpolate":"monotone","fill":"#FF1F41","fillOpacity":0.5,"line":{"color":"#000000","strokeWidth":1.1}},"encoding":{"x":{"field":"x","type":"quantitative","scale":{"domain":[10.765,11.874],"range":[0,188.6],"nice":false,"zero":false}},"y":{"field":"y","type":"quantitative","scale":{"domain":[0,1],"nice":false,"zero":false},"axis":null},"y2":{"datum":0.046}}}]}
]}
],
"resolve":{"scale":{"x":"independent","y":"independent","color":"shared"}},
"config":{
 "font":"Liberation Sans",
 "view":{"stroke":null},
 "axis":{"domainColor":"#000000","domainWidth":1.1,"tickColor":"#000000","tickWidth":1.1,"tickSize":3.5,"labelColor":"#4D4D4D","labelFontSize":11.3,"labelFont":"Liberation Sans","grid":false,"labelPadding":2,"labelOverlap":false,"labelFlush":false,"labelBound":false},
 "legend":{"labelFont":"Liberation Sans"}
}
}
